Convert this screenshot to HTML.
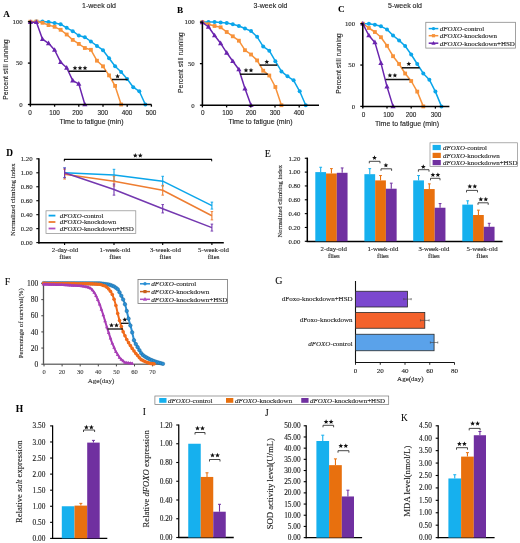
<!DOCTYPE html>
<html><head><meta charset="utf-8"><style>
html,body{margin:0;padding:0;background:#fff;}
svg{display:block;filter:blur(0.3px);}
</style></head><body>
<svg width="520" height="543" viewBox="0 0 520 543">
<rect width="520" height="543" fill="#fff"/>
<polyline points="30.40,21.70 36.45,21.50 42.50,21.50 48.55,22.00 54.60,23.00 60.65,24.20 66.70,27.80 72.75,31.20 78.80,35.50 84.85,37.20 90.90,41.50 96.95,45.90 103.00,50.20 109.05,58.30 115.10,66.30 121.15,72.00 127.20,79.00 133.25,87.20 139.30,91.30 145.35,104.50" fill="none" stroke="#0aa5ea" stroke-width="1.5" stroke-linejoin="round"/>
<circle cx="30.40" cy="21.70" r="2.0" fill="#0aa5ea"/>
<circle cx="36.45" cy="21.50" r="2.0" fill="#0aa5ea"/>
<circle cx="42.50" cy="21.50" r="2.0" fill="#0aa5ea"/>
<circle cx="48.55" cy="22.00" r="2.0" fill="#0aa5ea"/>
<circle cx="54.60" cy="23.00" r="2.0" fill="#0aa5ea"/>
<circle cx="60.65" cy="24.20" r="2.0" fill="#0aa5ea"/>
<circle cx="66.70" cy="27.80" r="2.0" fill="#0aa5ea"/>
<circle cx="72.75" cy="31.20" r="2.0" fill="#0aa5ea"/>
<circle cx="78.80" cy="35.50" r="2.0" fill="#0aa5ea"/>
<circle cx="84.85" cy="37.20" r="2.0" fill="#0aa5ea"/>
<circle cx="90.90" cy="41.50" r="2.0" fill="#0aa5ea"/>
<circle cx="96.95" cy="45.90" r="2.0" fill="#0aa5ea"/>
<circle cx="103.00" cy="50.20" r="2.0" fill="#0aa5ea"/>
<circle cx="109.05" cy="58.30" r="2.0" fill="#0aa5ea"/>
<circle cx="115.10" cy="66.30" r="2.0" fill="#0aa5ea"/>
<circle cx="121.15" cy="72.00" r="2.0" fill="#0aa5ea"/>
<circle cx="127.20" cy="79.00" r="2.0" fill="#0aa5ea"/>
<circle cx="133.25" cy="87.20" r="2.0" fill="#0aa5ea"/>
<circle cx="139.30" cy="91.30" r="2.0" fill="#0aa5ea"/>
<circle cx="145.35" cy="104.50" r="2.0" fill="#0aa5ea"/>
<polyline points="30.40,21.70 36.45,21.50 42.50,22.80 48.55,25.10 54.60,26.80 60.65,29.80 66.70,34.50 72.75,39.90 78.80,43.90 84.85,48.00 90.90,49.80 96.95,60.70 103.00,66.30 109.05,75.40 115.10,85.90 121.15,104.50" fill="none" stroke="#f7923a" stroke-width="1.5" stroke-linejoin="round"/>
<rect x="28.50" y="19.80" width="3.8" height="3.8" fill="#f7923a"/>
<rect x="34.55" y="19.60" width="3.8" height="3.8" fill="#f7923a"/>
<rect x="40.60" y="20.90" width="3.8" height="3.8" fill="#f7923a"/>
<rect x="46.65" y="23.20" width="3.8" height="3.8" fill="#f7923a"/>
<rect x="52.70" y="24.90" width="3.8" height="3.8" fill="#f7923a"/>
<rect x="58.75" y="27.90" width="3.8" height="3.8" fill="#f7923a"/>
<rect x="64.80" y="32.60" width="3.8" height="3.8" fill="#f7923a"/>
<rect x="70.85" y="38.00" width="3.8" height="3.8" fill="#f7923a"/>
<rect x="76.90" y="42.00" width="3.8" height="3.8" fill="#f7923a"/>
<rect x="82.95" y="46.10" width="3.8" height="3.8" fill="#f7923a"/>
<rect x="89.00" y="47.90" width="3.8" height="3.8" fill="#f7923a"/>
<rect x="95.05" y="58.80" width="3.8" height="3.8" fill="#f7923a"/>
<rect x="101.10" y="64.40" width="3.8" height="3.8" fill="#f7923a"/>
<rect x="107.15" y="73.50" width="3.8" height="3.8" fill="#f7923a"/>
<rect x="113.20" y="84.00" width="3.8" height="3.8" fill="#f7923a"/>
<rect x="119.25" y="102.60" width="3.8" height="3.8" fill="#f7923a"/>
<polyline points="30.40,22.20 36.45,22.20 42.50,39.20 48.55,43.30 54.60,50.00 60.65,62.20 66.70,67.80 72.75,80.60 78.80,83.90 84.85,104.50" fill="none" stroke="#6a24ae" stroke-width="1.5" stroke-linejoin="round"/>
<polygon points="30.40,19.39 27.80,24.07 33.00,24.07" fill="#6a24ae"/>
<polygon points="36.45,19.39 33.85,24.07 39.05,24.07" fill="#6a24ae"/>
<polygon points="42.50,36.39 39.90,41.07 45.10,41.07" fill="#6a24ae"/>
<polygon points="48.55,40.49 45.95,45.17 51.15,45.17" fill="#6a24ae"/>
<polygon points="54.60,47.19 52.00,51.87 57.20,51.87" fill="#6a24ae"/>
<polygon points="60.65,59.39 58.05,64.07 63.25,64.07" fill="#6a24ae"/>
<polygon points="66.70,64.99 64.10,69.67 69.30,69.67" fill="#6a24ae"/>
<polygon points="72.75,77.79 70.15,82.47 75.35,82.47" fill="#6a24ae"/>
<polygon points="78.80,81.09 76.20,85.77 81.40,85.77" fill="#6a24ae"/>
<polygon points="84.85,101.69 82.25,106.37 87.45,106.37" fill="#6a24ae"/>
<line x1="30.40" y1="21.20" x2="30.40" y2="105.25" stroke="#000" stroke-width="1.55"/>
<line x1="29.65" y1="104.50" x2="151.50" y2="104.50" stroke="#000" stroke-width="1.55"/>
<line x1="27.90" y1="21.70" x2="30.40" y2="21.70" stroke="#000" stroke-width="1.3"/>
<line x1="27.90" y1="63.10" x2="30.40" y2="63.10" stroke="#000" stroke-width="1.3"/>
<line x1="27.90" y1="104.50" x2="30.40" y2="104.50" stroke="#000" stroke-width="1.3"/>
<line x1="30.40" y1="104.50" x2="30.40" y2="106.70" stroke="#000" stroke-width="1.3"/>
<text x="30.00" y="115.04" font-family="'Liberation Sans', sans-serif" font-size="6.4" text-anchor="middle" font-weight="normal" font-style="normal" fill="#222" stroke="#222" stroke-width="0.12">0</text>
<line x1="54.60" y1="104.50" x2="54.60" y2="106.70" stroke="#000" stroke-width="1.3"/>
<text x="54.50" y="115.04" font-family="'Liberation Sans', sans-serif" font-size="6.4" text-anchor="middle" font-weight="normal" font-style="normal" fill="#222" stroke="#222" stroke-width="0.12">100</text>
<line x1="78.80" y1="104.50" x2="78.80" y2="106.70" stroke="#000" stroke-width="1.3"/>
<text x="77.60" y="115.04" font-family="'Liberation Sans', sans-serif" font-size="6.4" text-anchor="middle" font-weight="normal" font-style="normal" fill="#222" stroke="#222" stroke-width="0.12">200</text>
<line x1="103.00" y1="104.50" x2="103.00" y2="106.70" stroke="#000" stroke-width="1.3"/>
<text x="102.80" y="115.04" font-family="'Liberation Sans', sans-serif" font-size="6.4" text-anchor="middle" font-weight="normal" font-style="normal" fill="#222" stroke="#222" stroke-width="0.12">300</text>
<line x1="127.20" y1="104.50" x2="127.20" y2="106.70" stroke="#000" stroke-width="1.3"/>
<text x="127.00" y="115.04" font-family="'Liberation Sans', sans-serif" font-size="6.4" text-anchor="middle" font-weight="normal" font-style="normal" fill="#222" stroke="#222" stroke-width="0.12">400</text>
<line x1="151.40" y1="104.50" x2="151.40" y2="106.70" stroke="#000" stroke-width="1.3"/>
<text x="151.00" y="115.04" font-family="'Liberation Sans', sans-serif" font-size="6.4" text-anchor="middle" font-weight="normal" font-style="normal" fill="#222" stroke="#222" stroke-width="0.12">500</text>
<text x="22.70" y="24.08" font-family="'Liberation Serif', serif" font-size="6.8" text-anchor="end" font-weight="normal" font-style="normal" fill="#222" stroke="#222" stroke-width="0.12">100</text>
<text x="22.70" y="65.48" font-family="'Liberation Serif', serif" font-size="6.8" text-anchor="end" font-weight="normal" font-style="normal" fill="#222" stroke="#222" stroke-width="0.12">50</text>
<text x="22.70" y="106.88" font-family="'Liberation Serif', serif" font-size="6.8" text-anchor="end" font-weight="normal" font-style="normal" fill="#222" stroke="#222" stroke-width="0.12">0</text>
<line x1="68.70" y1="71.20" x2="105.90" y2="71.20" stroke="#111" stroke-width="1.5"/>
<polygon points="75.00,65.60 75.66,67.19 77.38,67.33 76.07,68.45 76.47,70.12 75.00,69.22 73.53,70.12 73.93,68.45 72.62,67.33 74.34,67.19" fill="#111"/>
<polygon points="80.00,65.60 80.66,67.19 82.38,67.33 81.07,68.45 81.47,70.12 80.00,69.22 78.53,70.12 78.93,68.45 77.62,67.33 79.34,67.19" fill="#111"/>
<polygon points="85.00,65.60 85.66,67.19 87.38,67.33 86.07,68.45 86.47,70.12 85.00,69.22 83.53,70.12 83.93,68.45 82.62,67.33 84.34,67.19" fill="#111"/>
<line x1="112.00" y1="79.50" x2="127.70" y2="79.50" stroke="#111" stroke-width="1.5"/>
<polygon points="117.60,73.80 118.26,75.39 119.98,75.53 118.67,76.65 119.07,78.32 117.60,77.42 116.13,78.32 116.53,76.65 115.22,75.53 116.94,75.39" fill="#111"/>
<text x="99.00" y="8.05" font-family="'Liberation Sans', sans-serif" font-size="7" text-anchor="middle" font-weight="normal" font-style="normal" fill="#222" stroke="#222" stroke-width="0.12">1-week old</text>
<text x="3.20" y="16.52" font-family="'Liberation Serif', serif" font-size="9.2" text-anchor="start" font-weight="bold" font-style="normal" fill="#000" stroke="#000" stroke-width="0.05">A</text>
<text x="5.80" y="72.02" font-family="'Liberation Sans', sans-serif" font-size="6.9" text-anchor="middle" font-weight="normal" font-style="normal" fill="#222" stroke="#222" stroke-width="0.12" transform="rotate(-90 5.80 69.60)">Percent still running</text>
<text x="91.50" y="124.45" font-family="'Liberation Sans', sans-serif" font-size="7" text-anchor="middle" font-weight="normal" font-style="normal" fill="#222" stroke="#222" stroke-width="0.12">Time to fatigue (min)</text>
<polyline points="202.40,22.10 208.48,22.10 214.56,22.10 220.64,22.50 226.72,23.00 232.80,24.20 238.88,26.00 244.96,28.50 251.04,31.10 257.12,36.80 263.20,46.60 269.28,50.70 275.36,61.20 281.44,71.40 287.52,76.30 293.60,80.30 299.68,91.30 305.76,105.20" fill="none" stroke="#0aa5ea" stroke-width="1.5" stroke-linejoin="round"/>
<circle cx="202.40" cy="22.10" r="2.0" fill="#0aa5ea"/>
<circle cx="208.48" cy="22.10" r="2.0" fill="#0aa5ea"/>
<circle cx="214.56" cy="22.10" r="2.0" fill="#0aa5ea"/>
<circle cx="220.64" cy="22.50" r="2.0" fill="#0aa5ea"/>
<circle cx="226.72" cy="23.00" r="2.0" fill="#0aa5ea"/>
<circle cx="232.80" cy="24.20" r="2.0" fill="#0aa5ea"/>
<circle cx="238.88" cy="26.00" r="2.0" fill="#0aa5ea"/>
<circle cx="244.96" cy="28.50" r="2.0" fill="#0aa5ea"/>
<circle cx="251.04" cy="31.10" r="2.0" fill="#0aa5ea"/>
<circle cx="257.12" cy="36.80" r="2.0" fill="#0aa5ea"/>
<circle cx="263.20" cy="46.60" r="2.0" fill="#0aa5ea"/>
<circle cx="269.28" cy="50.70" r="2.0" fill="#0aa5ea"/>
<circle cx="275.36" cy="61.20" r="2.0" fill="#0aa5ea"/>
<circle cx="281.44" cy="71.40" r="2.0" fill="#0aa5ea"/>
<circle cx="287.52" cy="76.30" r="2.0" fill="#0aa5ea"/>
<circle cx="293.60" cy="80.30" r="2.0" fill="#0aa5ea"/>
<circle cx="299.68" cy="91.30" r="2.0" fill="#0aa5ea"/>
<circle cx="305.76" cy="105.20" r="2.0" fill="#0aa5ea"/>
<polyline points="202.40,22.10 208.48,24.20 214.56,26.00 220.64,27.30 226.72,32.00 232.80,36.30 238.88,40.70 244.96,50.20 251.04,54.50 257.12,60.40 263.20,70.70 269.28,75.50 275.36,87.00 281.44,105.20" fill="none" stroke="#f7923a" stroke-width="1.5" stroke-linejoin="round"/>
<rect x="200.50" y="20.20" width="3.8" height="3.8" fill="#f7923a"/>
<rect x="206.58" y="22.30" width="3.8" height="3.8" fill="#f7923a"/>
<rect x="212.66" y="24.10" width="3.8" height="3.8" fill="#f7923a"/>
<rect x="218.74" y="25.40" width="3.8" height="3.8" fill="#f7923a"/>
<rect x="224.82" y="30.10" width="3.8" height="3.8" fill="#f7923a"/>
<rect x="230.90" y="34.40" width="3.8" height="3.8" fill="#f7923a"/>
<rect x="236.98" y="38.80" width="3.8" height="3.8" fill="#f7923a"/>
<rect x="243.06" y="48.30" width="3.8" height="3.8" fill="#f7923a"/>
<rect x="249.14" y="52.60" width="3.8" height="3.8" fill="#f7923a"/>
<rect x="255.22" y="58.50" width="3.8" height="3.8" fill="#f7923a"/>
<rect x="261.30" y="68.80" width="3.8" height="3.8" fill="#f7923a"/>
<rect x="267.38" y="73.60" width="3.8" height="3.8" fill="#f7923a"/>
<rect x="273.46" y="85.10" width="3.8" height="3.8" fill="#f7923a"/>
<rect x="279.54" y="103.30" width="3.8" height="3.8" fill="#f7923a"/>
<polyline points="202.40,22.50 208.48,26.80 214.56,35.50 220.64,43.30 226.72,52.80 232.80,61.20 238.88,69.50 244.96,88.60 251.04,105.20" fill="none" stroke="#6a24ae" stroke-width="1.5" stroke-linejoin="round"/>
<polygon points="202.40,19.69 199.80,24.37 205.00,24.37" fill="#6a24ae"/>
<polygon points="208.48,23.99 205.88,28.67 211.08,28.67" fill="#6a24ae"/>
<polygon points="214.56,32.69 211.96,37.37 217.16,37.37" fill="#6a24ae"/>
<polygon points="220.64,40.49 218.04,45.17 223.24,45.17" fill="#6a24ae"/>
<polygon points="226.72,49.99 224.12,54.67 229.32,54.67" fill="#6a24ae"/>
<polygon points="232.80,58.39 230.20,63.07 235.40,63.07" fill="#6a24ae"/>
<polygon points="238.88,66.69 236.28,71.37 241.48,71.37" fill="#6a24ae"/>
<polygon points="244.96,85.79 242.36,90.47 247.56,90.47" fill="#6a24ae"/>
<polygon points="251.04,102.39 248.44,107.07 253.64,107.07" fill="#6a24ae"/>
<line x1="202.40" y1="21.60" x2="202.40" y2="105.95" stroke="#000" stroke-width="1.55"/>
<line x1="201.65" y1="105.20" x2="319.00" y2="105.20" stroke="#000" stroke-width="1.55"/>
<line x1="199.90" y1="22.10" x2="202.40" y2="22.10" stroke="#000" stroke-width="1.3"/>
<line x1="199.90" y1="63.65" x2="202.40" y2="63.65" stroke="#000" stroke-width="1.3"/>
<line x1="199.90" y1="105.20" x2="202.40" y2="105.20" stroke="#000" stroke-width="1.3"/>
<line x1="202.40" y1="105.20" x2="202.40" y2="107.40" stroke="#000" stroke-width="1.3"/>
<text x="202.70" y="115.24" font-family="'Liberation Sans', sans-serif" font-size="6.4" text-anchor="middle" font-weight="normal" font-style="normal" fill="#222" stroke="#222" stroke-width="0.12">0</text>
<line x1="226.60" y1="105.20" x2="226.60" y2="107.40" stroke="#000" stroke-width="1.3"/>
<text x="227.50" y="115.24" font-family="'Liberation Sans', sans-serif" font-size="6.4" text-anchor="middle" font-weight="normal" font-style="normal" fill="#222" stroke="#222" stroke-width="0.12">100</text>
<line x1="250.80" y1="105.20" x2="250.80" y2="107.40" stroke="#000" stroke-width="1.3"/>
<text x="251.00" y="115.24" font-family="'Liberation Sans', sans-serif" font-size="6.4" text-anchor="middle" font-weight="normal" font-style="normal" fill="#222" stroke="#222" stroke-width="0.12">200</text>
<line x1="275.00" y1="105.20" x2="275.00" y2="107.40" stroke="#000" stroke-width="1.3"/>
<text x="275.00" y="115.24" font-family="'Liberation Sans', sans-serif" font-size="6.4" text-anchor="middle" font-weight="normal" font-style="normal" fill="#222" stroke="#222" stroke-width="0.12">300</text>
<line x1="299.20" y1="105.20" x2="299.20" y2="107.40" stroke="#000" stroke-width="1.3"/>
<text x="299.00" y="115.24" font-family="'Liberation Sans', sans-serif" font-size="6.4" text-anchor="middle" font-weight="normal" font-style="normal" fill="#222" stroke="#222" stroke-width="0.12">400</text>
<text x="194.70" y="24.48" font-family="'Liberation Serif', serif" font-size="6.8" text-anchor="end" font-weight="normal" font-style="normal" fill="#222" stroke="#222" stroke-width="0.12">100</text>
<text x="194.70" y="66.03" font-family="'Liberation Serif', serif" font-size="6.8" text-anchor="end" font-weight="normal" font-style="normal" fill="#222" stroke="#222" stroke-width="0.12">50</text>
<text x="194.70" y="107.58" font-family="'Liberation Serif', serif" font-size="6.8" text-anchor="end" font-weight="normal" font-style="normal" fill="#222" stroke="#222" stroke-width="0.12">0</text>
<line x1="240.00" y1="74.20" x2="267.80" y2="74.20" stroke="#111" stroke-width="1.5"/>
<polygon points="246.00,67.80 246.66,69.39 248.38,69.53 247.07,70.65 247.47,72.32 246.00,71.42 244.53,72.32 244.93,70.65 243.62,69.53 245.34,69.39" fill="#111"/>
<polygon points="251.00,67.80 251.66,69.39 253.38,69.53 252.07,70.65 252.47,72.32 251.00,71.42 249.53,72.32 249.93,70.65 248.62,69.53 250.34,69.39" fill="#111"/>
<line x1="259.70" y1="65.10" x2="277.20" y2="65.10" stroke="#111" stroke-width="1.5"/>
<polygon points="266.80,59.50 267.46,61.09 269.18,61.23 267.87,62.35 268.27,64.02 266.80,63.12 265.33,64.02 265.73,62.35 264.42,61.23 266.14,61.09" fill="#111"/>
<text x="270.50" y="8.05" font-family="'Liberation Sans', sans-serif" font-size="7" text-anchor="middle" font-weight="normal" font-style="normal" fill="#222" stroke="#222" stroke-width="0.12">3-week old</text>
<text x="176.90" y="13.22" font-family="'Liberation Serif', serif" font-size="9.2" text-anchor="start" font-weight="bold" font-style="normal" fill="#000" stroke="#000" stroke-width="0.05">B</text>
<text x="180.60" y="65.12" font-family="'Liberation Sans', sans-serif" font-size="6.9" text-anchor="middle" font-weight="normal" font-style="normal" fill="#222" stroke="#222" stroke-width="0.12" transform="rotate(-90 180.60 62.70)">Percent still running</text>
<text x="260.50" y="124.45" font-family="'Liberation Sans', sans-serif" font-size="7" text-anchor="middle" font-weight="normal" font-style="normal" fill="#222" stroke="#222" stroke-width="0.12">Time to fatigue (min)</text>
<polyline points="362.80,23.70 368.85,23.70 374.90,24.70 380.95,26.30 387.00,29.40 393.05,35.50 399.10,40.40 405.15,46.00 411.20,54.50 417.25,64.00 423.30,73.40 429.35,79.70 435.40,91.60 441.45,106.40" fill="none" stroke="#0aa5ea" stroke-width="1.5" stroke-linejoin="round"/>
<circle cx="362.80" cy="23.70" r="2.0" fill="#0aa5ea"/>
<circle cx="368.85" cy="23.70" r="2.0" fill="#0aa5ea"/>
<circle cx="374.90" cy="24.70" r="2.0" fill="#0aa5ea"/>
<circle cx="380.95" cy="26.30" r="2.0" fill="#0aa5ea"/>
<circle cx="387.00" cy="29.40" r="2.0" fill="#0aa5ea"/>
<circle cx="393.05" cy="35.50" r="2.0" fill="#0aa5ea"/>
<circle cx="399.10" cy="40.40" r="2.0" fill="#0aa5ea"/>
<circle cx="405.15" cy="46.00" r="2.0" fill="#0aa5ea"/>
<circle cx="411.20" cy="54.50" r="2.0" fill="#0aa5ea"/>
<circle cx="417.25" cy="64.00" r="2.0" fill="#0aa5ea"/>
<circle cx="423.30" cy="73.40" r="2.0" fill="#0aa5ea"/>
<circle cx="429.35" cy="79.70" r="2.0" fill="#0aa5ea"/>
<circle cx="435.40" cy="91.60" r="2.0" fill="#0aa5ea"/>
<circle cx="441.45" cy="106.40" r="2.0" fill="#0aa5ea"/>
<polyline points="362.80,23.70 368.85,28.00 374.90,32.00 380.95,37.20 387.00,45.80 393.05,56.20 399.10,64.00 405.15,73.50 411.20,81.00 417.25,91.60 423.30,106.40" fill="none" stroke="#f7923a" stroke-width="1.5" stroke-linejoin="round"/>
<rect x="360.90" y="21.80" width="3.8" height="3.8" fill="#f7923a"/>
<rect x="366.95" y="26.10" width="3.8" height="3.8" fill="#f7923a"/>
<rect x="373.00" y="30.10" width="3.8" height="3.8" fill="#f7923a"/>
<rect x="379.05" y="35.30" width="3.8" height="3.8" fill="#f7923a"/>
<rect x="385.10" y="43.90" width="3.8" height="3.8" fill="#f7923a"/>
<rect x="391.15" y="54.30" width="3.8" height="3.8" fill="#f7923a"/>
<rect x="397.20" y="62.10" width="3.8" height="3.8" fill="#f7923a"/>
<rect x="403.25" y="71.60" width="3.8" height="3.8" fill="#f7923a"/>
<rect x="409.30" y="79.10" width="3.8" height="3.8" fill="#f7923a"/>
<rect x="415.35" y="89.70" width="3.8" height="3.8" fill="#f7923a"/>
<rect x="421.40" y="104.50" width="3.8" height="3.8" fill="#f7923a"/>
<polyline points="362.80,23.70 368.85,35.50 374.90,42.40 380.95,63.10 387.00,86.60 393.05,106.40" fill="none" stroke="#6a24ae" stroke-width="1.5" stroke-linejoin="round"/>
<polygon points="362.80,20.89 360.20,25.57 365.40,25.57" fill="#6a24ae"/>
<polygon points="368.85,32.69 366.25,37.37 371.45,37.37" fill="#6a24ae"/>
<polygon points="374.90,39.59 372.30,44.27 377.50,44.27" fill="#6a24ae"/>
<polygon points="380.95,60.29 378.35,64.97 383.55,64.97" fill="#6a24ae"/>
<polygon points="387.00,83.79 384.40,88.47 389.60,88.47" fill="#6a24ae"/>
<polygon points="393.05,103.59 390.45,108.27 395.65,108.27" fill="#6a24ae"/>
<line x1="362.80" y1="23.20" x2="362.80" y2="107.15" stroke="#000" stroke-width="1.55"/>
<line x1="362.05" y1="106.40" x2="449.40" y2="106.40" stroke="#000" stroke-width="1.55"/>
<line x1="360.30" y1="23.70" x2="362.80" y2="23.70" stroke="#000" stroke-width="1.3"/>
<line x1="360.30" y1="65.05" x2="362.80" y2="65.05" stroke="#000" stroke-width="1.3"/>
<line x1="360.30" y1="106.40" x2="362.80" y2="106.40" stroke="#000" stroke-width="1.3"/>
<line x1="362.80" y1="106.40" x2="362.80" y2="108.60" stroke="#000" stroke-width="1.3"/>
<text x="363.50" y="116.54" font-family="'Liberation Sans', sans-serif" font-size="6.4" text-anchor="middle" font-weight="normal" font-style="normal" fill="#222" stroke="#222" stroke-width="0.12">0</text>
<line x1="387.00" y1="106.40" x2="387.00" y2="108.60" stroke="#000" stroke-width="1.3"/>
<text x="388.50" y="116.54" font-family="'Liberation Sans', sans-serif" font-size="6.4" text-anchor="middle" font-weight="normal" font-style="normal" fill="#222" stroke="#222" stroke-width="0.12">100</text>
<line x1="411.20" y1="106.40" x2="411.20" y2="108.60" stroke="#000" stroke-width="1.3"/>
<text x="411.00" y="116.54" font-family="'Liberation Sans', sans-serif" font-size="6.4" text-anchor="middle" font-weight="normal" font-style="normal" fill="#222" stroke="#222" stroke-width="0.12">200</text>
<line x1="435.40" y1="106.40" x2="435.40" y2="108.60" stroke="#000" stroke-width="1.3"/>
<text x="436.00" y="116.54" font-family="'Liberation Sans', sans-serif" font-size="6.4" text-anchor="middle" font-weight="normal" font-style="normal" fill="#222" stroke="#222" stroke-width="0.12">300</text>
<text x="355.10" y="26.08" font-family="'Liberation Serif', serif" font-size="6.8" text-anchor="end" font-weight="normal" font-style="normal" fill="#222" stroke="#222" stroke-width="0.12">100</text>
<text x="355.10" y="67.43" font-family="'Liberation Serif', serif" font-size="6.8" text-anchor="end" font-weight="normal" font-style="normal" fill="#222" stroke="#222" stroke-width="0.12">50</text>
<text x="355.10" y="108.78" font-family="'Liberation Serif', serif" font-size="6.8" text-anchor="end" font-weight="normal" font-style="normal" fill="#222" stroke="#222" stroke-width="0.12">0</text>
<line x1="385.70" y1="79.50" x2="409.50" y2="79.50" stroke="#111" stroke-width="1.5"/>
<polygon points="389.90,73.00 390.56,74.59 392.28,74.73 390.97,75.85 391.37,77.52 389.90,76.62 388.43,77.52 388.83,75.85 387.52,74.73 389.24,74.59" fill="#111"/>
<polygon points="394.90,73.00 395.56,74.59 397.28,74.73 395.97,75.85 396.37,77.52 394.90,76.62 393.43,77.52 393.83,75.85 392.52,74.73 394.24,74.59" fill="#111"/>
<line x1="401.80" y1="67.80" x2="419.60" y2="67.80" stroke="#111" stroke-width="1.5"/>
<polygon points="408.80,61.50 409.46,63.09 411.18,63.23 409.87,64.35 410.27,66.02 408.80,65.12 407.33,66.02 407.73,64.35 406.42,63.23 408.14,63.09" fill="#111"/>
<text x="405.00" y="8.05" font-family="'Liberation Sans', sans-serif" font-size="7" text-anchor="middle" font-weight="normal" font-style="normal" fill="#222" stroke="#222" stroke-width="0.12">5-week old</text>
<text x="337.90" y="12.02" font-family="'Liberation Serif', serif" font-size="9.2" text-anchor="start" font-weight="bold" font-style="normal" fill="#000" stroke="#000" stroke-width="0.05">C</text>
<text x="338.80" y="66.02" font-family="'Liberation Sans', sans-serif" font-size="6.9" text-anchor="middle" font-weight="normal" font-style="normal" fill="#222" stroke="#222" stroke-width="0.12" transform="rotate(-90 338.80 63.60)">Percent still running</text>
<text x="407.00" y="126.15" font-family="'Liberation Sans', sans-serif" font-size="7" text-anchor="middle" font-weight="normal" font-style="normal" fill="#222" stroke="#222" stroke-width="0.12">Time to fatigue (min)</text>
<rect x="425.80" y="22.30" width="89.80" height="25.80" fill="#fff" stroke="#8a8a8a" stroke-width="0.8"/>
<line x1="428.70" y1="28.60" x2="438.30" y2="28.60" stroke="#0aa5ea" stroke-width="1.5"/>
<circle cx="433.50" cy="28.60" r="1.7" fill="#0aa5ea"/>
<text x="439.80" y="31.05" font-family="'Liberation Serif', serif" font-size="7.0" text-anchor="start" font-weight="normal" font-style="normal" fill="#222" stroke="#222" stroke-width="0.12"><tspan font-style="italic">dFOXO</tspan>-control</text>
<line x1="428.70" y1="35.70" x2="438.30" y2="35.70" stroke="#f7923a" stroke-width="1.5"/>
<rect x="431.90" y="34.10" width="3.2" height="3.2" fill="#f7923a"/>
<text x="439.80" y="38.15" font-family="'Liberation Serif', serif" font-size="7.0" text-anchor="start" font-weight="normal" font-style="normal" fill="#222" stroke="#222" stroke-width="0.12"><tspan font-style="italic">dFOXO</tspan>-knockdown</text>
<line x1="428.70" y1="43.20" x2="438.30" y2="43.20" stroke="#6a24ae" stroke-width="1.5"/>
<polygon points="433.50,40.93 431.40,44.71 435.60,44.71" fill="#6a24ae"/>
<text x="439.80" y="45.65" font-family="'Liberation Serif', serif" font-size="7.0" text-anchor="start" font-weight="normal" font-style="normal" fill="#222" stroke="#222" stroke-width="0.12"><tspan font-style="italic">dFOXO</tspan>-knockdown+HSD</text>
<text x="6.20" y="155.66" font-family="'Liberation Serif', serif" font-size="9.3" text-anchor="start" font-weight="bold" font-style="normal" fill="#000" stroke="#000" stroke-width="0.05">D</text>
<line x1="38.90" y1="158.30" x2="38.90" y2="243.40" stroke="#000" stroke-width="1.5"/>
<line x1="38.20" y1="242.70" x2="223.80" y2="242.70" stroke="#000" stroke-width="1.5"/>
<line x1="36.30" y1="242.60" x2="38.90" y2="242.60" stroke="#000" stroke-width="1.1"/>
<text x="32.60" y="244.98" font-family="'Liberation Serif', serif" font-size="6.8" text-anchor="end" font-weight="normal" font-style="normal" fill="#222" stroke="#222" stroke-width="0.12">0.00</text>
<line x1="36.30" y1="228.64" x2="38.90" y2="228.64" stroke="#000" stroke-width="1.1"/>
<text x="32.60" y="231.02" font-family="'Liberation Serif', serif" font-size="6.8" text-anchor="end" font-weight="normal" font-style="normal" fill="#222" stroke="#222" stroke-width="0.12">0.20</text>
<line x1="36.30" y1="214.68" x2="38.90" y2="214.68" stroke="#000" stroke-width="1.1"/>
<text x="32.60" y="217.06" font-family="'Liberation Serif', serif" font-size="6.8" text-anchor="end" font-weight="normal" font-style="normal" fill="#222" stroke="#222" stroke-width="0.12">0.40</text>
<line x1="36.30" y1="200.72" x2="38.90" y2="200.72" stroke="#000" stroke-width="1.1"/>
<text x="32.60" y="203.10" font-family="'Liberation Serif', serif" font-size="6.8" text-anchor="end" font-weight="normal" font-style="normal" fill="#222" stroke="#222" stroke-width="0.12">0.60</text>
<line x1="36.30" y1="186.76" x2="38.90" y2="186.76" stroke="#000" stroke-width="1.1"/>
<text x="32.60" y="189.14" font-family="'Liberation Serif', serif" font-size="6.8" text-anchor="end" font-weight="normal" font-style="normal" fill="#222" stroke="#222" stroke-width="0.12">0.80</text>
<line x1="36.30" y1="172.80" x2="38.90" y2="172.80" stroke="#000" stroke-width="1.1"/>
<text x="32.60" y="175.18" font-family="'Liberation Serif', serif" font-size="6.8" text-anchor="end" font-weight="normal" font-style="normal" fill="#222" stroke="#222" stroke-width="0.12">1.00</text>
<line x1="36.30" y1="158.84" x2="38.90" y2="158.84" stroke="#000" stroke-width="1.1"/>
<text x="32.60" y="161.22" font-family="'Liberation Serif', serif" font-size="6.8" text-anchor="end" font-weight="normal" font-style="normal" fill="#222" stroke="#222" stroke-width="0.12">1.20</text>
<line x1="64.60" y1="242.70" x2="64.60" y2="245.00" stroke="#000" stroke-width="1.1"/>
<text x="65.00" y="251.78" font-family="'Liberation Serif', serif" font-size="6.8" text-anchor="middle" font-weight="normal" font-style="normal" fill="#222" stroke="#222" stroke-width="0.12">2-day-old</text>
<text x="65.00" y="259.18" font-family="'Liberation Serif', serif" font-size="6.8" text-anchor="middle" font-weight="normal" font-style="normal" fill="#222" stroke="#222" stroke-width="0.12">flies</text>
<line x1="114.00" y1="242.70" x2="114.00" y2="245.00" stroke="#000" stroke-width="1.1"/>
<text x="115.00" y="251.78" font-family="'Liberation Serif', serif" font-size="6.8" text-anchor="middle" font-weight="normal" font-style="normal" fill="#222" stroke="#222" stroke-width="0.12">1-week-old</text>
<text x="115.00" y="259.18" font-family="'Liberation Serif', serif" font-size="6.8" text-anchor="middle" font-weight="normal" font-style="normal" fill="#222" stroke="#222" stroke-width="0.12">flies</text>
<line x1="162.70" y1="242.70" x2="162.70" y2="245.00" stroke="#000" stroke-width="1.1"/>
<text x="165.40" y="251.78" font-family="'Liberation Serif', serif" font-size="6.8" text-anchor="middle" font-weight="normal" font-style="normal" fill="#222" stroke="#222" stroke-width="0.12">3-week-old</text>
<text x="165.40" y="259.18" font-family="'Liberation Serif', serif" font-size="6.8" text-anchor="middle" font-weight="normal" font-style="normal" fill="#222" stroke="#222" stroke-width="0.12">flies</text>
<line x1="211.90" y1="242.70" x2="211.90" y2="245.00" stroke="#000" stroke-width="1.1"/>
<text x="213.50" y="251.78" font-family="'Liberation Serif', serif" font-size="6.8" text-anchor="middle" font-weight="normal" font-style="normal" fill="#222" stroke="#222" stroke-width="0.12">5-week-old</text>
<text x="213.50" y="259.18" font-family="'Liberation Serif', serif" font-size="6.8" text-anchor="middle" font-weight="normal" font-style="normal" fill="#222" stroke="#222" stroke-width="0.12">flies</text>
<text x="12.40" y="202.11" font-family="'Liberation Serif', serif" font-size="6.6" text-anchor="middle" font-weight="normal" font-style="normal" fill="#222" stroke="#222" stroke-width="0.12" transform="rotate(-90 12.40 199.80)">Normalized climbing index</text>
<polyline points="64.60,172.80 114.00,174.89 162.70,181.18 211.90,205.61" fill="none" stroke="#0aa5ea" stroke-width="1.5" stroke-linejoin="round"/>
<line x1="64.60" y1="167.91" x2="64.60" y2="177.69" stroke="#0aa5ea" stroke-width="1.1"/>
<line x1="63.30" y1="167.91" x2="65.90" y2="167.91" stroke="#0aa5ea" stroke-width="0.9"/>
<line x1="63.30" y1="177.69" x2="65.90" y2="177.69" stroke="#0aa5ea" stroke-width="0.9"/>
<line x1="114.00" y1="169.31" x2="114.00" y2="180.48" stroke="#0aa5ea" stroke-width="1.1"/>
<line x1="112.70" y1="169.31" x2="115.30" y2="169.31" stroke="#0aa5ea" stroke-width="0.9"/>
<line x1="112.70" y1="180.48" x2="115.30" y2="180.48" stroke="#0aa5ea" stroke-width="0.9"/>
<line x1="162.70" y1="176.29" x2="162.70" y2="186.06" stroke="#0aa5ea" stroke-width="1.1"/>
<line x1="161.40" y1="176.29" x2="164.00" y2="176.29" stroke="#0aa5ea" stroke-width="0.9"/>
<line x1="161.40" y1="186.06" x2="164.00" y2="186.06" stroke="#0aa5ea" stroke-width="0.9"/>
<line x1="211.90" y1="202.12" x2="211.90" y2="209.10" stroke="#0aa5ea" stroke-width="1.1"/>
<line x1="210.60" y1="202.12" x2="213.20" y2="202.12" stroke="#0aa5ea" stroke-width="0.9"/>
<line x1="210.60" y1="209.10" x2="213.20" y2="209.10" stroke="#0aa5ea" stroke-width="0.9"/>
<polyline points="64.60,174.20 114.00,181.18 162.70,190.25 211.90,215.73" fill="none" stroke="#ee7d31" stroke-width="1.5" stroke-linejoin="round"/>
<line x1="64.60" y1="169.31" x2="64.60" y2="179.08" stroke="#ee7d31" stroke-width="1.1"/>
<line x1="63.30" y1="169.31" x2="65.90" y2="169.31" stroke="#ee7d31" stroke-width="0.9"/>
<line x1="63.30" y1="179.08" x2="65.90" y2="179.08" stroke="#ee7d31" stroke-width="0.9"/>
<line x1="114.00" y1="176.29" x2="114.00" y2="186.06" stroke="#ee7d31" stroke-width="1.1"/>
<line x1="112.70" y1="176.29" x2="115.30" y2="176.29" stroke="#ee7d31" stroke-width="0.9"/>
<line x1="112.70" y1="186.06" x2="115.30" y2="186.06" stroke="#ee7d31" stroke-width="0.9"/>
<line x1="162.70" y1="185.36" x2="162.70" y2="195.14" stroke="#ee7d31" stroke-width="1.1"/>
<line x1="161.40" y1="185.36" x2="164.00" y2="185.36" stroke="#ee7d31" stroke-width="0.9"/>
<line x1="161.40" y1="195.14" x2="164.00" y2="195.14" stroke="#ee7d31" stroke-width="0.9"/>
<line x1="211.90" y1="211.54" x2="211.90" y2="219.91" stroke="#ee7d31" stroke-width="1.1"/>
<line x1="210.60" y1="211.54" x2="213.20" y2="211.54" stroke="#ee7d31" stroke-width="0.9"/>
<line x1="210.60" y1="219.91" x2="213.20" y2="219.91" stroke="#ee7d31" stroke-width="0.9"/>
<polyline points="64.60,172.80 114.00,189.55 162.70,208.75 211.90,227.59" fill="none" stroke="#7438b0" stroke-width="1.5" stroke-linejoin="round"/>
<line x1="64.60" y1="167.91" x2="64.60" y2="177.69" stroke="#7438b0" stroke-width="1.1"/>
<line x1="63.30" y1="167.91" x2="65.90" y2="167.91" stroke="#7438b0" stroke-width="0.9"/>
<line x1="63.30" y1="177.69" x2="65.90" y2="177.69" stroke="#7438b0" stroke-width="0.9"/>
<line x1="114.00" y1="183.97" x2="114.00" y2="195.14" stroke="#7438b0" stroke-width="1.1"/>
<line x1="112.70" y1="183.97" x2="115.30" y2="183.97" stroke="#7438b0" stroke-width="0.9"/>
<line x1="112.70" y1="195.14" x2="115.30" y2="195.14" stroke="#7438b0" stroke-width="0.9"/>
<line x1="162.70" y1="204.56" x2="162.70" y2="212.94" stroke="#7438b0" stroke-width="1.1"/>
<line x1="161.40" y1="204.56" x2="164.00" y2="204.56" stroke="#7438b0" stroke-width="0.9"/>
<line x1="161.40" y1="212.94" x2="164.00" y2="212.94" stroke="#7438b0" stroke-width="0.9"/>
<line x1="211.90" y1="224.10" x2="211.90" y2="231.08" stroke="#7438b0" stroke-width="1.1"/>
<line x1="210.60" y1="224.10" x2="213.20" y2="224.10" stroke="#7438b0" stroke-width="0.9"/>
<line x1="210.60" y1="231.08" x2="213.20" y2="231.08" stroke="#7438b0" stroke-width="0.9"/>
<line x1="64.00" y1="159.30" x2="212.00" y2="159.30" stroke="#000" stroke-width="1.2"/>
<line x1="64.30" y1="159.30" x2="64.30" y2="161.30" stroke="#000" stroke-width="1"/>
<line x1="211.70" y1="159.30" x2="211.70" y2="161.30" stroke="#000" stroke-width="1"/>
<polygon points="135.30,153.10 135.96,154.69 137.68,154.83 136.37,155.95 136.77,157.62 135.30,156.73 133.83,157.62 134.23,155.95 132.92,154.83 134.64,154.69" fill="#111"/>
<polygon points="140.30,153.10 140.96,154.69 142.68,154.83 141.37,155.95 141.77,157.62 140.30,156.73 138.83,157.62 139.23,155.95 137.92,154.83 139.64,154.69" fill="#111"/>
<rect x="46.00" y="210.80" width="89.80" height="22.80" fill="#fff" stroke="#8a8a8a" stroke-width="0.7"/>
<line x1="48.60" y1="215.60" x2="55.40" y2="215.60" stroke="#0aa5ea" stroke-width="1.8"/>
<text x="59.80" y="218.01" font-family="'Liberation Serif', serif" font-size="6.9" text-anchor="start" font-weight="normal" font-style="normal" fill="#222" stroke="#222" stroke-width="0.12"><tspan font-style="italic">dFOXO</tspan>-control</text>
<line x1="48.60" y1="222.00" x2="55.40" y2="222.00" stroke="#ee7d31" stroke-width="1.8"/>
<text x="59.80" y="224.41" font-family="'Liberation Serif', serif" font-size="6.9" text-anchor="start" font-weight="normal" font-style="normal" fill="#222" stroke="#222" stroke-width="0.12"><tspan font-style="italic">dFOXO</tspan>-knockdown</text>
<line x1="48.60" y1="228.50" x2="55.40" y2="228.50" stroke="#b04fc0" stroke-width="1.8"/>
<text x="59.80" y="230.91" font-family="'Liberation Serif', serif" font-size="6.9" text-anchor="start" font-weight="normal" font-style="normal" fill="#222" stroke="#222" stroke-width="0.12"><tspan font-style="italic">dFOXO</tspan>-knockdown+HSD</text>
<text x="264.80" y="156.50" font-family="'Liberation Serif', serif" font-size="10" text-anchor="start" font-weight="normal" font-style="normal" fill="#000" stroke="#000" stroke-width="0.05">E</text>
<line x1="307.30" y1="157.60" x2="307.30" y2="242.00" stroke="#000" stroke-width="1.5"/>
<line x1="306.60" y1="241.40" x2="502.60" y2="241.40" stroke="#000" stroke-width="1.5"/>
<line x1="304.80" y1="241.30" x2="307.30" y2="241.30" stroke="#000" stroke-width="1.1"/>
<text x="300.40" y="243.68" font-family="'Liberation Serif', serif" font-size="6.8" text-anchor="end" font-weight="normal" font-style="normal" fill="#222" stroke="#222" stroke-width="0.12">0.00</text>
<line x1="304.80" y1="227.46" x2="307.30" y2="227.46" stroke="#000" stroke-width="1.1"/>
<text x="300.40" y="229.84" font-family="'Liberation Serif', serif" font-size="6.8" text-anchor="end" font-weight="normal" font-style="normal" fill="#222" stroke="#222" stroke-width="0.12">0.20</text>
<line x1="304.80" y1="213.62" x2="307.30" y2="213.62" stroke="#000" stroke-width="1.1"/>
<text x="300.40" y="216.00" font-family="'Liberation Serif', serif" font-size="6.8" text-anchor="end" font-weight="normal" font-style="normal" fill="#222" stroke="#222" stroke-width="0.12">0.40</text>
<line x1="304.80" y1="199.78" x2="307.30" y2="199.78" stroke="#000" stroke-width="1.1"/>
<text x="300.40" y="202.16" font-family="'Liberation Serif', serif" font-size="6.8" text-anchor="end" font-weight="normal" font-style="normal" fill="#222" stroke="#222" stroke-width="0.12">0.60</text>
<line x1="304.80" y1="185.94" x2="307.30" y2="185.94" stroke="#000" stroke-width="1.1"/>
<text x="300.40" y="188.32" font-family="'Liberation Serif', serif" font-size="6.8" text-anchor="end" font-weight="normal" font-style="normal" fill="#222" stroke="#222" stroke-width="0.12">0.80</text>
<line x1="304.80" y1="172.10" x2="307.30" y2="172.10" stroke="#000" stroke-width="1.1"/>
<text x="300.40" y="174.48" font-family="'Liberation Serif', serif" font-size="6.8" text-anchor="end" font-weight="normal" font-style="normal" fill="#222" stroke="#222" stroke-width="0.12">1.00</text>
<line x1="304.80" y1="158.26" x2="307.30" y2="158.26" stroke="#000" stroke-width="1.1"/>
<text x="300.40" y="160.64" font-family="'Liberation Serif', serif" font-size="6.8" text-anchor="end" font-weight="normal" font-style="normal" fill="#222" stroke="#222" stroke-width="0.12">1.20</text>
<rect x="315.30" y="172.10" width="10.75" height="69.20" fill="#16b0ee" stroke="none" stroke-width="0"/>
<line x1="320.68" y1="167.26" x2="320.68" y2="172.10" stroke="#16b0ee" stroke-width="1.1"/>
<line x1="319.28" y1="167.26" x2="322.07" y2="167.26" stroke="#16b0ee" stroke-width="1.0"/>
<rect x="326.05" y="173.48" width="10.75" height="67.82" fill="#e8700e" stroke="none" stroke-width="0"/>
<line x1="331.43" y1="168.64" x2="331.43" y2="173.48" stroke="#e8700e" stroke-width="1.1"/>
<line x1="330.03" y1="168.64" x2="332.82" y2="168.64" stroke="#e8700e" stroke-width="1.0"/>
<rect x="336.80" y="172.79" width="10.75" height="68.51" fill="#7030a0" stroke="none" stroke-width="0"/>
<line x1="342.18" y1="167.95" x2="342.18" y2="172.79" stroke="#7030a0" stroke-width="1.1"/>
<line x1="340.78" y1="167.95" x2="343.57" y2="167.95" stroke="#7030a0" stroke-width="1.0"/>
<text x="333.80" y="250.98" font-family="'Liberation Serif', serif" font-size="6.8" text-anchor="middle" font-weight="normal" font-style="normal" fill="#222" stroke="#222" stroke-width="0.12">2-day-old</text>
<text x="333.80" y="258.28" font-family="'Liberation Serif', serif" font-size="6.8" text-anchor="middle" font-weight="normal" font-style="normal" fill="#222" stroke="#222" stroke-width="0.12">flies</text>
<rect x="364.40" y="174.18" width="10.75" height="67.12" fill="#16b0ee" stroke="none" stroke-width="0"/>
<line x1="369.77" y1="168.64" x2="369.77" y2="174.18" stroke="#16b0ee" stroke-width="1.1"/>
<line x1="368.38" y1="168.64" x2="371.17" y2="168.64" stroke="#16b0ee" stroke-width="1.0"/>
<rect x="375.15" y="180.40" width="10.75" height="60.90" fill="#e8700e" stroke="none" stroke-width="0"/>
<line x1="380.52" y1="175.56" x2="380.52" y2="180.40" stroke="#e8700e" stroke-width="1.1"/>
<line x1="379.12" y1="175.56" x2="381.92" y2="175.56" stroke="#e8700e" stroke-width="1.0"/>
<rect x="385.90" y="188.71" width="10.75" height="52.59" fill="#7030a0" stroke="none" stroke-width="0"/>
<line x1="391.27" y1="183.17" x2="391.27" y2="188.71" stroke="#7030a0" stroke-width="1.1"/>
<line x1="389.88" y1="183.17" x2="392.67" y2="183.17" stroke="#7030a0" stroke-width="1.0"/>
<text x="382.90" y="250.98" font-family="'Liberation Serif', serif" font-size="6.8" text-anchor="middle" font-weight="normal" font-style="normal" fill="#222" stroke="#222" stroke-width="0.12">1-week-old</text>
<text x="382.90" y="258.28" font-family="'Liberation Serif', serif" font-size="6.8" text-anchor="middle" font-weight="normal" font-style="normal" fill="#222" stroke="#222" stroke-width="0.12">flies</text>
<rect x="413.20" y="180.40" width="10.75" height="60.90" fill="#16b0ee" stroke="none" stroke-width="0"/>
<line x1="418.57" y1="175.56" x2="418.57" y2="180.40" stroke="#16b0ee" stroke-width="1.1"/>
<line x1="417.18" y1="175.56" x2="419.97" y2="175.56" stroke="#16b0ee" stroke-width="1.0"/>
<rect x="423.95" y="189.05" width="10.75" height="52.25" fill="#e8700e" stroke="none" stroke-width="0"/>
<line x1="429.32" y1="183.86" x2="429.32" y2="189.05" stroke="#e8700e" stroke-width="1.1"/>
<line x1="427.93" y1="183.86" x2="430.72" y2="183.86" stroke="#e8700e" stroke-width="1.0"/>
<rect x="434.70" y="207.74" width="10.75" height="33.56" fill="#7030a0" stroke="none" stroke-width="0"/>
<line x1="440.07" y1="203.59" x2="440.07" y2="207.74" stroke="#7030a0" stroke-width="1.1"/>
<line x1="438.68" y1="203.59" x2="441.47" y2="203.59" stroke="#7030a0" stroke-width="1.0"/>
<text x="433.90" y="250.98" font-family="'Liberation Serif', serif" font-size="6.8" text-anchor="middle" font-weight="normal" font-style="normal" fill="#222" stroke="#222" stroke-width="0.12">3-week-old</text>
<text x="433.90" y="258.28" font-family="'Liberation Serif', serif" font-size="6.8" text-anchor="middle" font-weight="normal" font-style="normal" fill="#222" stroke="#222" stroke-width="0.12">flies</text>
<rect x="462.30" y="204.62" width="10.75" height="36.68" fill="#16b0ee" stroke="none" stroke-width="0"/>
<line x1="467.68" y1="200.82" x2="467.68" y2="204.62" stroke="#16b0ee" stroke-width="1.1"/>
<line x1="466.28" y1="200.82" x2="469.07" y2="200.82" stroke="#16b0ee" stroke-width="1.0"/>
<rect x="473.05" y="215.00" width="10.75" height="26.30" fill="#e8700e" stroke="none" stroke-width="0"/>
<line x1="478.43" y1="210.16" x2="478.43" y2="215.00" stroke="#e8700e" stroke-width="1.1"/>
<line x1="477.03" y1="210.16" x2="479.82" y2="210.16" stroke="#e8700e" stroke-width="1.0"/>
<rect x="483.80" y="226.77" width="10.75" height="14.53" fill="#7030a0" stroke="none" stroke-width="0"/>
<line x1="489.18" y1="223.31" x2="489.18" y2="226.77" stroke="#7030a0" stroke-width="1.1"/>
<line x1="487.78" y1="223.31" x2="490.57" y2="223.31" stroke="#7030a0" stroke-width="1.0"/>
<text x="482.10" y="250.98" font-family="'Liberation Serif', serif" font-size="6.8" text-anchor="middle" font-weight="normal" font-style="normal" fill="#222" stroke="#222" stroke-width="0.12">5-week-old</text>
<text x="482.10" y="258.28" font-family="'Liberation Serif', serif" font-size="6.8" text-anchor="middle" font-weight="normal" font-style="normal" fill="#222" stroke="#222" stroke-width="0.12">flies</text>
<text x="279.30" y="203.51" font-family="'Liberation Serif', serif" font-size="6.6" text-anchor="middle" font-weight="normal" font-style="normal" fill="#222" stroke="#222" stroke-width="0.12" transform="rotate(-90 279.30 201.20)">Normalized climbing index</text>
<line x1="369.30" y1="161.30" x2="380.00" y2="161.30" stroke="#333" stroke-width="0.9"/>
<line x1="369.30" y1="161.30" x2="369.30" y2="163.30" stroke="#333" stroke-width="0.9"/>
<line x1="380.00" y1="161.30" x2="380.00" y2="163.30" stroke="#333" stroke-width="0.9"/>
<polygon points="374.50,155.30 375.16,156.89 376.88,157.03 375.57,158.15 375.97,159.82 374.50,158.93 373.03,159.82 373.43,158.15 372.12,157.03 373.84,156.89" fill="#111"/>
<line x1="381.00" y1="168.80" x2="391.60" y2="168.80" stroke="#333" stroke-width="0.9"/>
<line x1="381.00" y1="168.80" x2="381.00" y2="170.80" stroke="#333" stroke-width="0.9"/>
<line x1="391.60" y1="168.80" x2="391.60" y2="170.80" stroke="#333" stroke-width="0.9"/>
<polygon points="385.90,162.80 386.56,164.39 388.28,164.53 386.97,165.65 387.37,167.32 385.90,166.43 384.43,167.32 384.83,165.65 383.52,164.53 385.24,164.39" fill="#111"/>
<line x1="418.40" y1="169.70" x2="429.00" y2="169.70" stroke="#333" stroke-width="0.9"/>
<line x1="418.40" y1="169.70" x2="418.40" y2="171.70" stroke="#333" stroke-width="0.9"/>
<line x1="429.00" y1="169.70" x2="429.00" y2="171.70" stroke="#333" stroke-width="0.9"/>
<polygon points="423.30,164.30 423.96,165.89 425.68,166.03 424.37,167.15 424.77,168.82 423.30,167.93 421.83,168.82 422.23,167.15 420.92,166.03 422.64,165.89" fill="#111"/>
<line x1="430.50" y1="178.30" x2="440.00" y2="178.30" stroke="#333" stroke-width="0.9"/>
<line x1="430.50" y1="178.30" x2="430.50" y2="180.30" stroke="#333" stroke-width="0.9"/>
<line x1="440.00" y1="178.30" x2="440.00" y2="180.30" stroke="#333" stroke-width="0.9"/>
<polygon points="432.90,172.40 433.56,173.99 435.28,174.13 433.97,175.25 434.37,176.92 432.90,176.03 431.43,176.92 431.83,175.25 430.52,174.13 432.24,173.99" fill="#111"/>
<polygon points="437.90,172.40 438.56,173.99 440.28,174.13 438.97,175.25 439.37,176.92 437.90,176.03 436.43,176.92 436.83,175.25 435.52,174.13 437.24,173.99" fill="#111"/>
<line x1="466.50" y1="190.40" x2="477.50" y2="190.40" stroke="#333" stroke-width="0.9"/>
<line x1="466.50" y1="190.40" x2="466.50" y2="192.40" stroke="#333" stroke-width="0.9"/>
<line x1="477.50" y1="190.40" x2="477.50" y2="192.40" stroke="#333" stroke-width="0.9"/>
<polygon points="469.80,183.90 470.46,185.49 472.18,185.63 470.87,186.75 471.27,188.42 469.80,187.53 468.33,188.42 468.73,186.75 467.42,185.63 469.14,185.49" fill="#111"/>
<polygon points="474.80,183.90 475.46,185.49 477.18,185.63 475.87,186.75 476.27,188.42 474.80,187.53 473.33,188.42 473.73,186.75 472.42,185.63 474.14,185.49" fill="#111"/>
<line x1="478.00" y1="202.80" x2="488.20" y2="202.80" stroke="#333" stroke-width="0.9"/>
<line x1="478.00" y1="202.80" x2="478.00" y2="204.80" stroke="#333" stroke-width="0.9"/>
<line x1="488.20" y1="202.80" x2="488.20" y2="204.80" stroke="#333" stroke-width="0.9"/>
<polygon points="480.80,196.80 481.46,198.39 483.18,198.53 481.87,199.65 482.27,201.32 480.80,200.43 479.33,201.32 479.73,199.65 478.42,198.53 480.14,198.39" fill="#111"/>
<polygon points="485.80,196.80 486.46,198.39 488.18,198.53 486.87,199.65 487.27,201.32 485.80,200.43 484.33,201.32 484.73,199.65 483.42,198.53 485.14,198.39" fill="#111"/>
<rect x="430.00" y="142.80" width="87.50" height="23.60" fill="#fff" stroke="#8a8a8a" stroke-width="0.7"/>
<rect x="432.60" y="144.90" width="8.20" height="5.20" fill="#16b0ee" stroke="none" stroke-width="0"/>
<text x="443.00" y="149.93" font-family="'Liberation Serif', serif" font-size="6.95" text-anchor="start" font-weight="normal" font-style="normal" fill="#222" stroke="#222" stroke-width="0.12"><tspan font-style="italic">dFOXO</tspan>-control</text>
<rect x="432.60" y="152.80" width="8.20" height="5.20" fill="#e8700e" stroke="none" stroke-width="0"/>
<text x="443.00" y="157.83" font-family="'Liberation Serif', serif" font-size="6.95" text-anchor="start" font-weight="normal" font-style="normal" fill="#222" stroke="#222" stroke-width="0.12"><tspan font-style="italic">dFOXO</tspan>-knockdown</text>
<rect x="432.60" y="160.00" width="8.20" height="5.20" fill="#7030a0" stroke="none" stroke-width="0"/>
<text x="443.00" y="165.03" font-family="'Liberation Serif', serif" font-size="6.95" text-anchor="start" font-weight="normal" font-style="normal" fill="#222" stroke="#222" stroke-width="0.12"><tspan font-style="italic">dFOXO</tspan>-knockdown+HSD</text>
<text x="4.80" y="285.30" font-family="'Liberation Serif', serif" font-size="10" text-anchor="start" font-weight="normal" font-style="normal" fill="#000" stroke="#000" stroke-width="0.05">F</text>
<line x1="43.50" y1="283.00" x2="43.50" y2="364.80" stroke="#555" stroke-width="1.3"/>
<line x1="43.00" y1="364.30" x2="163.00" y2="364.30" stroke="#777" stroke-width="1.5"/>
<line x1="41.30" y1="364.20" x2="43.50" y2="364.20" stroke="#444" stroke-width="1"/>
<text x="38.30" y="366.82" font-family="'Liberation Serif', serif" font-size="7.5" text-anchor="end" font-weight="normal" font-style="normal" fill="#222" stroke="#222" stroke-width="0.12">0</text>
<line x1="41.30" y1="348.06" x2="43.50" y2="348.06" stroke="#444" stroke-width="1"/>
<text x="38.30" y="350.69" font-family="'Liberation Serif', serif" font-size="7.5" text-anchor="end" font-weight="normal" font-style="normal" fill="#222" stroke="#222" stroke-width="0.12">20</text>
<line x1="41.30" y1="331.92" x2="43.50" y2="331.92" stroke="#444" stroke-width="1"/>
<text x="38.30" y="334.54" font-family="'Liberation Serif', serif" font-size="7.5" text-anchor="end" font-weight="normal" font-style="normal" fill="#222" stroke="#222" stroke-width="0.12">40</text>
<line x1="41.30" y1="315.78" x2="43.50" y2="315.78" stroke="#444" stroke-width="1"/>
<text x="38.30" y="318.40" font-family="'Liberation Serif', serif" font-size="7.5" text-anchor="end" font-weight="normal" font-style="normal" fill="#222" stroke="#222" stroke-width="0.12">60</text>
<line x1="41.30" y1="299.64" x2="43.50" y2="299.64" stroke="#444" stroke-width="1"/>
<text x="38.30" y="302.26" font-family="'Liberation Serif', serif" font-size="7.5" text-anchor="end" font-weight="normal" font-style="normal" fill="#222" stroke="#222" stroke-width="0.12">80</text>
<line x1="41.30" y1="283.50" x2="43.50" y2="283.50" stroke="#444" stroke-width="1"/>
<text x="38.30" y="286.12" font-family="'Liberation Serif', serif" font-size="7.5" text-anchor="end" font-weight="normal" font-style="normal" fill="#222" stroke="#222" stroke-width="0.12">100</text>
<line x1="44.00" y1="364.30" x2="44.00" y2="366.40" stroke="#444" stroke-width="1"/>
<text x="44.00" y="373.88" font-family="'Liberation Serif', serif" font-size="6.5" text-anchor="middle" font-weight="normal" font-style="normal" fill="#444" stroke="#444" stroke-width="0.12">0</text>
<line x1="62.10" y1="364.30" x2="62.10" y2="366.40" stroke="#444" stroke-width="1"/>
<text x="62.10" y="373.88" font-family="'Liberation Serif', serif" font-size="6.5" text-anchor="middle" font-weight="normal" font-style="normal" fill="#444" stroke="#444" stroke-width="0.12">20</text>
<line x1="80.20" y1="364.30" x2="80.20" y2="366.40" stroke="#444" stroke-width="1"/>
<text x="80.20" y="373.88" font-family="'Liberation Serif', serif" font-size="6.5" text-anchor="middle" font-weight="normal" font-style="normal" fill="#444" stroke="#444" stroke-width="0.12">30</text>
<line x1="98.30" y1="364.30" x2="98.30" y2="366.40" stroke="#444" stroke-width="1"/>
<text x="98.30" y="373.88" font-family="'Liberation Serif', serif" font-size="6.5" text-anchor="middle" font-weight="normal" font-style="normal" fill="#444" stroke="#444" stroke-width="0.12">40</text>
<line x1="116.40" y1="364.30" x2="116.40" y2="366.40" stroke="#444" stroke-width="1"/>
<text x="116.40" y="373.88" font-family="'Liberation Serif', serif" font-size="6.5" text-anchor="middle" font-weight="normal" font-style="normal" fill="#444" stroke="#444" stroke-width="0.12">50</text>
<line x1="134.50" y1="364.30" x2="134.50" y2="366.40" stroke="#444" stroke-width="1"/>
<text x="134.50" y="373.88" font-family="'Liberation Serif', serif" font-size="6.5" text-anchor="middle" font-weight="normal" font-style="normal" fill="#444" stroke="#444" stroke-width="0.12">60</text>
<line x1="152.60" y1="364.30" x2="152.60" y2="366.40" stroke="#444" stroke-width="1"/>
<text x="152.60" y="373.88" font-family="'Liberation Serif', serif" font-size="6.5" text-anchor="middle" font-weight="normal" font-style="normal" fill="#444" stroke="#444" stroke-width="0.12">70</text>
<text x="101.00" y="382.65" font-family="'Liberation Serif', serif" font-size="7" text-anchor="middle" font-weight="normal" font-style="normal" fill="#333" stroke="#333" stroke-width="0.12">Age(day)</text>
<text x="20.60" y="325.65" font-family="'Liberation Serif', serif" font-size="6.7" text-anchor="middle" font-weight="normal" font-style="normal" fill="#222" stroke="#222" stroke-width="0.12" transform="rotate(-90 20.60 323.30)">Percentage of survival(%)</text>
<polyline points="43.50,283.20 100.00,283.40 109.40,284.60 114.20,286.50 118.10,289.50 120.50,294.20 122.40,297.80 124.20,301.80 125.80,307.00 127.40,313.70 129.20,321.30 131.40,329.00 134.30,341.50 138.00,347.80 141.90,354.30 145.30,356.90 150.10,359.50 155.30,361.60 159.60,362.90 163.90,364.10" fill="none" stroke="#2a8fd4" stroke-width="2.0" stroke-linejoin="round"/>
<circle cx="43.50" cy="283.20" r="1.8" fill="#2a8fd4" stroke="#1f6aa0" stroke-width="0.5"/>
<circle cx="45.31" cy="283.21" r="1.8" fill="#2a8fd4" stroke="#1f6aa0" stroke-width="0.5"/>
<circle cx="47.12" cy="283.21" r="1.8" fill="#2a8fd4" stroke="#1f6aa0" stroke-width="0.5"/>
<circle cx="48.93" cy="283.22" r="1.8" fill="#2a8fd4" stroke="#1f6aa0" stroke-width="0.5"/>
<circle cx="50.74" cy="283.23" r="1.8" fill="#2a8fd4" stroke="#1f6aa0" stroke-width="0.5"/>
<circle cx="52.55" cy="283.23" r="1.8" fill="#2a8fd4" stroke="#1f6aa0" stroke-width="0.5"/>
<circle cx="54.36" cy="283.24" r="1.8" fill="#2a8fd4" stroke="#1f6aa0" stroke-width="0.5"/>
<circle cx="56.17" cy="283.24" r="1.8" fill="#2a8fd4" stroke="#1f6aa0" stroke-width="0.5"/>
<circle cx="57.98" cy="283.25" r="1.8" fill="#2a8fd4" stroke="#1f6aa0" stroke-width="0.5"/>
<circle cx="59.79" cy="283.26" r="1.8" fill="#2a8fd4" stroke="#1f6aa0" stroke-width="0.5"/>
<circle cx="61.60" cy="283.26" r="1.8" fill="#2a8fd4" stroke="#1f6aa0" stroke-width="0.5"/>
<circle cx="63.41" cy="283.27" r="1.8" fill="#2a8fd4" stroke="#1f6aa0" stroke-width="0.5"/>
<circle cx="65.22" cy="283.28" r="1.8" fill="#2a8fd4" stroke="#1f6aa0" stroke-width="0.5"/>
<circle cx="67.03" cy="283.28" r="1.8" fill="#2a8fd4" stroke="#1f6aa0" stroke-width="0.5"/>
<circle cx="68.84" cy="283.29" r="1.8" fill="#2a8fd4" stroke="#1f6aa0" stroke-width="0.5"/>
<circle cx="70.65" cy="283.30" r="1.8" fill="#2a8fd4" stroke="#1f6aa0" stroke-width="0.5"/>
<circle cx="72.46" cy="283.30" r="1.8" fill="#2a8fd4" stroke="#1f6aa0" stroke-width="0.5"/>
<circle cx="74.27" cy="283.31" r="1.8" fill="#2a8fd4" stroke="#1f6aa0" stroke-width="0.5"/>
<circle cx="76.08" cy="283.32" r="1.8" fill="#2a8fd4" stroke="#1f6aa0" stroke-width="0.5"/>
<circle cx="77.89" cy="283.32" r="1.8" fill="#2a8fd4" stroke="#1f6aa0" stroke-width="0.5"/>
<circle cx="79.70" cy="283.33" r="1.8" fill="#2a8fd4" stroke="#1f6aa0" stroke-width="0.5"/>
<circle cx="81.51" cy="283.33" r="1.8" fill="#2a8fd4" stroke="#1f6aa0" stroke-width="0.5"/>
<circle cx="83.32" cy="283.34" r="1.8" fill="#2a8fd4" stroke="#1f6aa0" stroke-width="0.5"/>
<circle cx="85.13" cy="283.35" r="1.8" fill="#2a8fd4" stroke="#1f6aa0" stroke-width="0.5"/>
<circle cx="86.94" cy="283.35" r="1.8" fill="#2a8fd4" stroke="#1f6aa0" stroke-width="0.5"/>
<circle cx="88.75" cy="283.36" r="1.8" fill="#2a8fd4" stroke="#1f6aa0" stroke-width="0.5"/>
<circle cx="90.56" cy="283.37" r="1.8" fill="#2a8fd4" stroke="#1f6aa0" stroke-width="0.5"/>
<circle cx="92.37" cy="283.37" r="1.8" fill="#2a8fd4" stroke="#1f6aa0" stroke-width="0.5"/>
<circle cx="94.18" cy="283.38" r="1.8" fill="#2a8fd4" stroke="#1f6aa0" stroke-width="0.5"/>
<circle cx="95.99" cy="283.39" r="1.8" fill="#2a8fd4" stroke="#1f6aa0" stroke-width="0.5"/>
<circle cx="97.80" cy="283.39" r="1.8" fill="#2a8fd4" stroke="#1f6aa0" stroke-width="0.5"/>
<circle cx="99.61" cy="283.40" r="1.8" fill="#2a8fd4" stroke="#1f6aa0" stroke-width="0.5"/>
<circle cx="101.42" cy="283.58" r="1.8" fill="#2a8fd4" stroke="#1f6aa0" stroke-width="0.5"/>
<circle cx="103.23" cy="283.81" r="1.8" fill="#2a8fd4" stroke="#1f6aa0" stroke-width="0.5"/>
<circle cx="105.04" cy="284.04" r="1.8" fill="#2a8fd4" stroke="#1f6aa0" stroke-width="0.5"/>
<circle cx="106.85" cy="284.27" r="1.8" fill="#2a8fd4" stroke="#1f6aa0" stroke-width="0.5"/>
<circle cx="108.66" cy="284.51" r="1.8" fill="#2a8fd4" stroke="#1f6aa0" stroke-width="0.5"/>
<circle cx="110.47" cy="285.02" r="1.8" fill="#2a8fd4" stroke="#1f6aa0" stroke-width="0.5"/>
<circle cx="112.28" cy="285.74" r="1.8" fill="#2a8fd4" stroke="#1f6aa0" stroke-width="0.5"/>
<circle cx="114.09" cy="286.46" r="1.8" fill="#2a8fd4" stroke="#1f6aa0" stroke-width="0.5"/>
<circle cx="115.90" cy="287.81" r="1.8" fill="#2a8fd4" stroke="#1f6aa0" stroke-width="0.5"/>
<circle cx="117.71" cy="289.20" r="1.8" fill="#2a8fd4" stroke="#1f6aa0" stroke-width="0.5"/>
<circle cx="119.52" cy="292.28" r="1.8" fill="#2a8fd4" stroke="#1f6aa0" stroke-width="0.5"/>
<circle cx="121.33" cy="295.77" r="1.8" fill="#2a8fd4" stroke="#1f6aa0" stroke-width="0.5"/>
<circle cx="123.14" cy="299.44" r="1.8" fill="#2a8fd4" stroke="#1f6aa0" stroke-width="0.5"/>
<circle cx="124.95" cy="304.24" r="1.8" fill="#2a8fd4" stroke="#1f6aa0" stroke-width="0.5"/>
<circle cx="126.76" cy="311.02" r="1.8" fill="#2a8fd4" stroke="#1f6aa0" stroke-width="0.5"/>
<circle cx="128.57" cy="318.64" r="1.8" fill="#2a8fd4" stroke="#1f6aa0" stroke-width="0.5"/>
<circle cx="130.38" cy="325.43" r="1.8" fill="#2a8fd4" stroke="#1f6aa0" stroke-width="0.5"/>
<circle cx="132.19" cy="332.41" r="1.8" fill="#2a8fd4" stroke="#1f6aa0" stroke-width="0.5"/>
<circle cx="134.00" cy="340.21" r="1.8" fill="#2a8fd4" stroke="#1f6aa0" stroke-width="0.5"/>
<circle cx="135.81" cy="344.07" r="1.8" fill="#2a8fd4" stroke="#1f6aa0" stroke-width="0.5"/>
<circle cx="137.62" cy="347.15" r="1.8" fill="#2a8fd4" stroke="#1f6aa0" stroke-width="0.5"/>
<circle cx="139.43" cy="350.18" r="1.8" fill="#2a8fd4" stroke="#1f6aa0" stroke-width="0.5"/>
<circle cx="141.24" cy="353.20" r="1.8" fill="#2a8fd4" stroke="#1f6aa0" stroke-width="0.5"/>
<circle cx="143.05" cy="355.18" r="1.8" fill="#2a8fd4" stroke="#1f6aa0" stroke-width="0.5"/>
<circle cx="144.86" cy="356.56" r="1.8" fill="#2a8fd4" stroke="#1f6aa0" stroke-width="0.5"/>
<circle cx="146.67" cy="357.64" r="1.8" fill="#2a8fd4" stroke="#1f6aa0" stroke-width="0.5"/>
<circle cx="148.48" cy="358.62" r="1.8" fill="#2a8fd4" stroke="#1f6aa0" stroke-width="0.5"/>
<circle cx="150.29" cy="359.58" r="1.8" fill="#2a8fd4" stroke="#1f6aa0" stroke-width="0.5"/>
<circle cx="152.10" cy="360.31" r="1.8" fill="#2a8fd4" stroke="#1f6aa0" stroke-width="0.5"/>
<circle cx="153.91" cy="361.04" r="1.8" fill="#2a8fd4" stroke="#1f6aa0" stroke-width="0.5"/>
<circle cx="155.72" cy="361.73" r="1.8" fill="#2a8fd4" stroke="#1f6aa0" stroke-width="0.5"/>
<circle cx="157.53" cy="362.27" r="1.8" fill="#2a8fd4" stroke="#1f6aa0" stroke-width="0.5"/>
<circle cx="159.34" cy="362.82" r="1.8" fill="#2a8fd4" stroke="#1f6aa0" stroke-width="0.5"/>
<circle cx="161.15" cy="363.33" r="1.8" fill="#2a8fd4" stroke="#1f6aa0" stroke-width="0.5"/>
<circle cx="162.96" cy="363.84" r="1.8" fill="#2a8fd4" stroke="#1f6aa0" stroke-width="0.5"/>
<polyline points="43.50,283.40 90.00,283.80 100.00,284.30 106.00,286.40 109.00,289.30 111.30,292.50 112.80,295.60 114.50,300.50 116.20,306.50 117.60,313.00 119.30,319.80 121.30,326.50 123.40,332.50 127.20,340.40 131.50,347.40 135.40,353.00 141.00,359.50 145.00,361.60 150.10,363.40 155.30,364.10" fill="none" stroke="#f06a1a" stroke-width="2.0" stroke-linejoin="round"/>
<circle cx="43.50" cy="283.40" r="1.8" fill="#f06a1a"/>
<circle cx="45.31" cy="283.42" r="1.8" fill="#f06a1a"/>
<circle cx="47.12" cy="283.43" r="1.8" fill="#f06a1a"/>
<circle cx="48.93" cy="283.45" r="1.8" fill="#f06a1a"/>
<circle cx="50.74" cy="283.46" r="1.8" fill="#f06a1a"/>
<circle cx="52.55" cy="283.48" r="1.8" fill="#f06a1a"/>
<circle cx="54.36" cy="283.49" r="1.8" fill="#f06a1a"/>
<circle cx="56.17" cy="283.51" r="1.8" fill="#f06a1a"/>
<circle cx="57.98" cy="283.52" r="1.8" fill="#f06a1a"/>
<circle cx="59.79" cy="283.54" r="1.8" fill="#f06a1a"/>
<circle cx="61.60" cy="283.56" r="1.8" fill="#f06a1a"/>
<circle cx="63.41" cy="283.57" r="1.8" fill="#f06a1a"/>
<circle cx="65.22" cy="283.59" r="1.8" fill="#f06a1a"/>
<circle cx="67.03" cy="283.60" r="1.8" fill="#f06a1a"/>
<circle cx="68.84" cy="283.62" r="1.8" fill="#f06a1a"/>
<circle cx="70.65" cy="283.63" r="1.8" fill="#f06a1a"/>
<circle cx="72.46" cy="283.65" r="1.8" fill="#f06a1a"/>
<circle cx="74.27" cy="283.66" r="1.8" fill="#f06a1a"/>
<circle cx="76.08" cy="283.68" r="1.8" fill="#f06a1a"/>
<circle cx="77.89" cy="283.70" r="1.8" fill="#f06a1a"/>
<circle cx="79.70" cy="283.71" r="1.8" fill="#f06a1a"/>
<circle cx="81.51" cy="283.73" r="1.8" fill="#f06a1a"/>
<circle cx="83.32" cy="283.74" r="1.8" fill="#f06a1a"/>
<circle cx="85.13" cy="283.76" r="1.8" fill="#f06a1a"/>
<circle cx="86.94" cy="283.77" r="1.8" fill="#f06a1a"/>
<circle cx="88.75" cy="283.79" r="1.8" fill="#f06a1a"/>
<circle cx="90.56" cy="283.83" r="1.8" fill="#f06a1a"/>
<circle cx="92.37" cy="283.92" r="1.8" fill="#f06a1a"/>
<circle cx="94.18" cy="284.01" r="1.8" fill="#f06a1a"/>
<circle cx="95.99" cy="284.10" r="1.8" fill="#f06a1a"/>
<circle cx="97.80" cy="284.19" r="1.8" fill="#f06a1a"/>
<circle cx="99.61" cy="284.28" r="1.8" fill="#f06a1a"/>
<circle cx="101.42" cy="284.80" r="1.8" fill="#f06a1a"/>
<circle cx="103.23" cy="285.43" r="1.8" fill="#f06a1a"/>
<circle cx="105.04" cy="286.06" r="1.8" fill="#f06a1a"/>
<circle cx="106.85" cy="287.22" r="1.8" fill="#f06a1a"/>
<circle cx="108.66" cy="288.97" r="1.8" fill="#f06a1a"/>
<circle cx="110.47" cy="291.35" r="1.8" fill="#f06a1a"/>
<circle cx="112.28" cy="294.53" r="1.8" fill="#f06a1a"/>
<circle cx="114.09" cy="299.32" r="1.8" fill="#f06a1a"/>
<circle cx="115.90" cy="305.44" r="1.8" fill="#f06a1a"/>
<circle cx="117.71" cy="313.44" r="1.8" fill="#f06a1a"/>
<circle cx="119.52" cy="320.54" r="1.8" fill="#f06a1a"/>
<circle cx="121.33" cy="326.59" r="1.8" fill="#f06a1a"/>
<circle cx="123.14" cy="331.76" r="1.8" fill="#f06a1a"/>
<circle cx="124.95" cy="335.72" r="1.8" fill="#f06a1a"/>
<circle cx="126.76" cy="339.49" r="1.8" fill="#f06a1a"/>
<circle cx="128.57" cy="342.63" r="1.8" fill="#f06a1a"/>
<circle cx="130.38" cy="345.58" r="1.8" fill="#f06a1a"/>
<circle cx="132.19" cy="348.39" r="1.8" fill="#f06a1a"/>
<circle cx="134.00" cy="350.99" r="1.8" fill="#f06a1a"/>
<circle cx="135.81" cy="353.48" r="1.8" fill="#f06a1a"/>
<circle cx="137.62" cy="355.58" r="1.8" fill="#f06a1a"/>
<circle cx="139.43" cy="357.68" r="1.8" fill="#f06a1a"/>
<circle cx="141.24" cy="359.63" r="1.8" fill="#f06a1a"/>
<circle cx="143.05" cy="360.58" r="1.8" fill="#f06a1a"/>
<circle cx="144.86" cy="361.53" r="1.8" fill="#f06a1a"/>
<circle cx="146.67" cy="362.19" r="1.8" fill="#f06a1a"/>
<circle cx="148.48" cy="362.83" r="1.8" fill="#f06a1a"/>
<circle cx="150.29" cy="363.43" r="1.8" fill="#f06a1a"/>
<circle cx="152.10" cy="363.67" r="1.8" fill="#f06a1a"/>
<circle cx="153.91" cy="363.91" r="1.8" fill="#f06a1a"/>
<polyline points="43.50,284.20 63.00,284.80 80.00,285.80 88.00,287.00 91.50,288.80 94.90,293.30 97.50,299.00 99.90,304.90 103.20,314.80 107.40,328.90 111.50,341.40 115.70,351.30 119.80,358.00 124.80,362.50 133.00,363.60" fill="none" stroke="#a83db5" stroke-width="2.0" stroke-linejoin="round"/>
<polygon points="43.50,282.26 41.70,285.50 45.30,285.50" fill="#a83db5"/>
<polygon points="45.31,282.31 43.51,285.55 47.11,285.55" fill="#a83db5"/>
<polygon points="47.12,282.37 45.32,285.61 48.92,285.61" fill="#a83db5"/>
<polygon points="48.93,282.42 47.13,285.66 50.73,285.66" fill="#a83db5"/>
<polygon points="50.74,282.48 48.94,285.72 52.54,285.72" fill="#a83db5"/>
<polygon points="52.55,282.53 50.75,285.77 54.35,285.77" fill="#a83db5"/>
<polygon points="54.36,282.59 52.56,285.83 56.16,285.83" fill="#a83db5"/>
<polygon points="56.17,282.65 54.37,285.89 57.97,285.89" fill="#a83db5"/>
<polygon points="57.98,282.70 56.18,285.94 59.78,285.94" fill="#a83db5"/>
<polygon points="59.79,282.76 57.99,286.00 61.59,286.00" fill="#a83db5"/>
<polygon points="61.60,282.81 59.80,286.05 63.40,286.05" fill="#a83db5"/>
<polygon points="63.41,282.88 61.61,286.12 65.21,286.12" fill="#a83db5"/>
<polygon points="65.22,282.99 63.42,286.23 67.02,286.23" fill="#a83db5"/>
<polygon points="67.03,283.09 65.23,286.33 68.83,286.33" fill="#a83db5"/>
<polygon points="68.84,283.20 67.04,286.44 70.64,286.44" fill="#a83db5"/>
<polygon points="70.65,283.31 68.85,286.55 72.45,286.55" fill="#a83db5"/>
<polygon points="72.46,283.41 70.66,286.65 74.26,286.65" fill="#a83db5"/>
<polygon points="74.27,283.52 72.47,286.76 76.07,286.76" fill="#a83db5"/>
<polygon points="76.08,283.63 74.28,286.87 77.88,286.87" fill="#a83db5"/>
<polygon points="77.89,283.73 76.09,286.97 79.69,286.97" fill="#a83db5"/>
<polygon points="79.70,283.84 77.90,287.08 81.50,287.08" fill="#a83db5"/>
<polygon points="81.51,284.08 79.71,287.32 83.31,287.32" fill="#a83db5"/>
<polygon points="83.32,284.35 81.52,287.59 85.12,287.59" fill="#a83db5"/>
<polygon points="85.13,284.63 83.33,287.87 86.93,287.87" fill="#a83db5"/>
<polygon points="86.94,284.90 85.14,288.14 88.74,288.14" fill="#a83db5"/>
<polygon points="88.75,285.44 86.95,288.68 90.55,288.68" fill="#a83db5"/>
<polygon points="90.56,286.37 88.76,289.61 92.36,289.61" fill="#a83db5"/>
<polygon points="92.37,288.01 90.57,291.25 94.17,291.25" fill="#a83db5"/>
<polygon points="94.18,290.40 92.38,293.64 95.98,293.64" fill="#a83db5"/>
<polygon points="95.99,293.75 94.19,296.99 97.79,296.99" fill="#a83db5"/>
<polygon points="97.80,297.79 96.00,301.03 99.60,301.03" fill="#a83db5"/>
<polygon points="99.61,302.24 97.81,305.48 101.41,305.48" fill="#a83db5"/>
<polygon points="101.42,307.52 99.62,310.76 103.22,310.76" fill="#a83db5"/>
<polygon points="103.23,312.96 101.43,316.20 105.03,316.20" fill="#a83db5"/>
<polygon points="105.04,319.03 103.24,322.27 106.84,322.27" fill="#a83db5"/>
<polygon points="106.85,325.11 105.05,328.35 108.65,328.35" fill="#a83db5"/>
<polygon points="108.66,330.80 106.86,334.04 110.46,334.04" fill="#a83db5"/>
<polygon points="110.47,336.32 108.67,339.56 112.27,339.56" fill="#a83db5"/>
<polygon points="112.28,341.29 110.48,344.53 114.08,344.53" fill="#a83db5"/>
<polygon points="114.09,345.56 112.29,348.80 115.89,348.80" fill="#a83db5"/>
<polygon points="115.90,349.68 114.10,352.92 117.70,352.92" fill="#a83db5"/>
<polygon points="117.71,352.64 115.91,355.88 119.51,355.88" fill="#a83db5"/>
<polygon points="119.52,355.60 117.72,358.84 121.32,358.84" fill="#a83db5"/>
<polygon points="121.33,357.43 119.53,360.67 123.13,360.67" fill="#a83db5"/>
<polygon points="123.14,359.06 121.34,362.30 124.94,362.30" fill="#a83db5"/>
<polygon points="124.95,360.58 123.15,363.82 126.75,363.82" fill="#a83db5"/>
<polygon points="126.76,360.82 124.96,364.06 128.56,364.06" fill="#a83db5"/>
<polygon points="128.57,361.06 126.77,364.30 130.37,364.30" fill="#a83db5"/>
<polygon points="130.38,361.30 128.58,364.54 132.18,364.54" fill="#a83db5"/>
<polygon points="132.19,361.55 130.39,364.79 133.99,364.79" fill="#a83db5"/>
<line x1="107.50" y1="329.00" x2="122.90" y2="329.00" stroke="#111" stroke-width="1.3"/>
<polygon points="111.50,322.80 112.16,324.39 113.88,324.53 112.57,325.65 112.97,327.32 111.50,326.43 110.03,327.32 110.43,325.65 109.12,324.53 110.84,324.39" fill="#111"/>
<polygon points="116.50,322.80 117.16,324.39 118.88,324.53 117.57,325.65 117.97,327.32 116.50,326.43 115.03,327.32 115.43,325.65 114.12,324.53 115.84,324.39" fill="#111"/>
<line x1="121.00" y1="323.30" x2="128.70" y2="323.30" stroke="#111" stroke-width="1.3"/>
<polygon points="124.80,317.20 125.46,318.79 127.18,318.93 125.87,320.05 126.27,321.72 124.80,320.82 123.33,321.72 123.73,320.05 122.42,318.93 124.14,318.79" fill="#111"/>
<rect x="138.00" y="279.50" width="89.50" height="24.00" fill="#fff" stroke="#777" stroke-width="0.8"/>
<line x1="140.00" y1="283.80" x2="150.00" y2="283.80" stroke="#2a8fd4" stroke-width="1.5"/>
<circle cx="145.00" cy="283.80" r="1.7" fill="#2a8fd4"/>
<text x="151.30" y="286.29" font-family="'Liberation Serif', serif" font-size="7.1" text-anchor="start" font-weight="normal" font-style="normal" fill="#222" stroke="#222" stroke-width="0.12"><tspan font-style="italic">dFOXO</tspan>-control</text>
<line x1="140.00" y1="291.60" x2="150.00" y2="291.60" stroke="#c8601c" stroke-width="1.5"/>
<rect x="143.40" y="290.00" width="3.2" height="3.2" fill="#c8601c"/>
<text x="151.30" y="294.09" font-family="'Liberation Serif', serif" font-size="7.1" text-anchor="start" font-weight="normal" font-style="normal" fill="#222" stroke="#222" stroke-width="0.12"><tspan font-style="italic">dFOXO</tspan>-knockdown</text>
<line x1="140.00" y1="299.30" x2="150.00" y2="299.30" stroke="#b050c0" stroke-width="1.5"/>
<polygon points="145.00,297.03 142.90,300.81 147.10,300.81" fill="#b050c0"/>
<text x="151.30" y="301.79" font-family="'Liberation Serif', serif" font-size="7.1" text-anchor="start" font-weight="normal" font-style="normal" fill="#222" stroke="#222" stroke-width="0.12"><tspan font-style="italic">dFOXO</tspan>-knockdown+HSD</text>
<text x="275.30" y="284.00" font-family="'Liberation Serif', serif" font-size="10" text-anchor="start" font-weight="normal" font-style="normal" fill="#000" stroke="#000" stroke-width="0.05">G</text>
<line x1="355.50" y1="281.00" x2="355.50" y2="363.00" stroke="#111" stroke-width="1.1"/>
<line x1="355.00" y1="362.50" x2="454.50" y2="362.50" stroke="#111" stroke-width="1.1"/>
<line x1="355.50" y1="362.50" x2="355.50" y2="364.80" stroke="#111" stroke-width="0.9"/>
<text x="355.50" y="372.95" font-family="'Liberation Serif', serif" font-size="7" text-anchor="middle" font-weight="normal" font-style="normal" fill="#222" stroke="#222" stroke-width="0.12">0</text>
<line x1="380.25" y1="362.50" x2="380.25" y2="364.80" stroke="#111" stroke-width="0.9"/>
<text x="380.25" y="372.95" font-family="'Liberation Serif', serif" font-size="7" text-anchor="middle" font-weight="normal" font-style="normal" fill="#222" stroke="#222" stroke-width="0.12">20</text>
<line x1="405.00" y1="362.50" x2="405.00" y2="364.80" stroke="#111" stroke-width="0.9"/>
<text x="405.00" y="372.95" font-family="'Liberation Serif', serif" font-size="7" text-anchor="middle" font-weight="normal" font-style="normal" fill="#222" stroke="#222" stroke-width="0.12">40</text>
<line x1="429.75" y1="362.50" x2="429.75" y2="364.80" stroke="#111" stroke-width="0.9"/>
<text x="429.75" y="372.95" font-family="'Liberation Serif', serif" font-size="7" text-anchor="middle" font-weight="normal" font-style="normal" fill="#222" stroke="#222" stroke-width="0.12">60</text>
<line x1="454.50" y1="362.50" x2="454.50" y2="364.80" stroke="#111" stroke-width="0.9"/>
<text x="454.50" y="372.95" font-family="'Liberation Serif', serif" font-size="7" text-anchor="middle" font-weight="normal" font-style="normal" fill="#222" stroke="#222" stroke-width="0.12">80</text>
<text x="410.30" y="381.35" font-family="'Liberation Serif', serif" font-size="7" text-anchor="middle" font-weight="normal" font-style="normal" fill="#222" stroke="#222" stroke-width="0.12">Age(day)</text>
<rect x="355.50" y="291.25" width="51.98" height="15.75" fill="#7b48cf" stroke="#2a2a2a" stroke-width="0.8"/>
<line x1="403.76" y1="299.12" x2="411.19" y2="299.12" stroke="#444" stroke-width="0.6"/>
<line x1="403.76" y1="298.02" x2="403.76" y2="300.23" stroke="#444" stroke-width="0.6"/>
<line x1="411.19" y1="298.02" x2="411.19" y2="300.23" stroke="#444" stroke-width="0.6"/>
<text x="352.60" y="301.05" font-family="'Liberation Serif', serif" font-size="7" text-anchor="end" font-weight="normal" font-style="normal" fill="#222" stroke="#222" stroke-width="0.12">dFoxo-knockdown+HSD</text>
<rect x="355.50" y="312.50" width="69.30" height="15.75" fill="#f4622c" stroke="#2a2a2a" stroke-width="0.8"/>
<line x1="420.47" y1="320.38" x2="429.13" y2="320.38" stroke="#444" stroke-width="0.6"/>
<line x1="420.47" y1="319.27" x2="420.47" y2="321.48" stroke="#444" stroke-width="0.6"/>
<line x1="429.13" y1="319.27" x2="429.13" y2="321.48" stroke="#444" stroke-width="0.6"/>
<text x="352.60" y="322.45" font-family="'Liberation Serif', serif" font-size="7" text-anchor="end" font-weight="normal" font-style="normal" fill="#222" stroke="#222" stroke-width="0.12">dFoxo-knockdown</text>
<rect x="355.50" y="334.25" width="78.58" height="16.50" fill="#5aa2ea" stroke="#2a2a2a" stroke-width="0.8"/>
<line x1="430.37" y1="342.50" x2="437.79" y2="342.50" stroke="#444" stroke-width="0.6"/>
<line x1="430.37" y1="341.40" x2="430.37" y2="343.60" stroke="#444" stroke-width="0.6"/>
<line x1="437.79" y1="341.40" x2="437.79" y2="343.60" stroke="#444" stroke-width="0.6"/>
<text x="352.60" y="346.25" font-family="'Liberation Serif', serif" font-size="7" text-anchor="end" font-weight="normal" font-style="normal" fill="#222" stroke="#222" stroke-width="0.12"><tspan font-style="italic">dFOXO</tspan>-control</text>
<rect x="154.90" y="396.00" width="233.80" height="8.60" fill="#fff" stroke="#777" stroke-width="0.7"/>
<rect x="159.20" y="398.00" width="7.30" height="4.80" fill="#16b0ee" stroke="none" stroke-width="0"/>
<text x="168.10" y="402.75" font-family="'Liberation Serif', serif" font-size="7" text-anchor="start" font-weight="normal" font-style="normal" fill="#222" stroke="#222" stroke-width="0.12"><tspan font-style="italic">dFOXO</tspan>-control</text>
<rect x="226.00" y="398.00" width="7.30" height="4.80" fill="#e8700e" stroke="none" stroke-width="0"/>
<text x="235.00" y="402.75" font-family="'Liberation Serif', serif" font-size="7" text-anchor="start" font-weight="normal" font-style="normal" fill="#222" stroke="#222" stroke-width="0.12"><tspan font-style="italic">dFOXO</tspan>-knockdown</text>
<rect x="301.25" y="398.00" width="7.30" height="4.80" fill="#7030a0" stroke="none" stroke-width="0"/>
<text x="310.00" y="402.75" font-family="'Liberation Serif', serif" font-size="7" text-anchor="start" font-weight="normal" font-style="normal" fill="#222" stroke="#222" stroke-width="0.12"><tspan font-style="italic">dFOXO</tspan>-knockdown+HSD</text>
<text x="15.80" y="412.12" font-family="'Liberation Serif', serif" font-size="9.5" text-anchor="start" font-weight="bold" font-style="normal" fill="#000" stroke="#000" stroke-width="0.05">H</text>
<line x1="52.60" y1="425.40" x2="52.60" y2="539.00" stroke="#000" stroke-width="1.25"/>
<line x1="52.00" y1="538.40" x2="107.30" y2="538.40" stroke="#000" stroke-width="1.4"/>
<line x1="50.10" y1="538.40" x2="52.60" y2="538.40" stroke="#000" stroke-width="1.1"/>
<text x="45.30" y="540.95" font-family="'Liberation Serif', serif" font-size="7.3" text-anchor="end" font-weight="normal" font-style="normal" fill="#222" stroke="#222" stroke-width="0.12">0.00</text>
<line x1="50.10" y1="522.33" x2="52.60" y2="522.33" stroke="#000" stroke-width="1.1"/>
<text x="45.30" y="524.88" font-family="'Liberation Serif', serif" font-size="7.3" text-anchor="end" font-weight="normal" font-style="normal" fill="#222" stroke="#222" stroke-width="0.12">0.50</text>
<line x1="50.10" y1="506.26" x2="52.60" y2="506.26" stroke="#000" stroke-width="1.1"/>
<text x="45.30" y="508.81" font-family="'Liberation Serif', serif" font-size="7.3" text-anchor="end" font-weight="normal" font-style="normal" fill="#222" stroke="#222" stroke-width="0.12">1.00</text>
<line x1="50.10" y1="490.19" x2="52.60" y2="490.19" stroke="#000" stroke-width="1.1"/>
<text x="45.30" y="492.74" font-family="'Liberation Serif', serif" font-size="7.3" text-anchor="end" font-weight="normal" font-style="normal" fill="#222" stroke="#222" stroke-width="0.12">1.50</text>
<line x1="50.10" y1="474.11" x2="52.60" y2="474.11" stroke="#000" stroke-width="1.1"/>
<text x="45.30" y="476.67" font-family="'Liberation Serif', serif" font-size="7.3" text-anchor="end" font-weight="normal" font-style="normal" fill="#222" stroke="#222" stroke-width="0.12">2.00</text>
<line x1="50.10" y1="458.04" x2="52.60" y2="458.04" stroke="#000" stroke-width="1.1"/>
<text x="45.30" y="460.60" font-family="'Liberation Serif', serif" font-size="7.3" text-anchor="end" font-weight="normal" font-style="normal" fill="#222" stroke="#222" stroke-width="0.12">2.50</text>
<line x1="50.10" y1="441.97" x2="52.60" y2="441.97" stroke="#000" stroke-width="1.1"/>
<text x="45.30" y="444.53" font-family="'Liberation Serif', serif" font-size="7.3" text-anchor="end" font-weight="normal" font-style="normal" fill="#222" stroke="#222" stroke-width="0.12">3.00</text>
<line x1="50.10" y1="425.90" x2="52.60" y2="425.90" stroke="#000" stroke-width="1.1"/>
<text x="45.30" y="428.45" font-family="'Liberation Serif', serif" font-size="7.3" text-anchor="end" font-weight="normal" font-style="normal" fill="#222" stroke="#222" stroke-width="0.12">3.50</text>
<rect x="61.80" y="506.26" width="12.70" height="32.14" fill="#16b0ee" stroke="none" stroke-width="0"/>
<rect x="74.50" y="505.61" width="12.70" height="32.79" fill="#e8700e" stroke="none" stroke-width="0"/>
<line x1="80.85" y1="503.36" x2="80.85" y2="505.61" stroke="#e8700e" stroke-width="1.1"/>
<line x1="79.35" y1="503.36" x2="82.35" y2="503.36" stroke="#e8700e" stroke-width="1.0"/>
<rect x="87.20" y="442.61" width="12.50" height="95.79" fill="#7030a0" stroke="none" stroke-width="0"/>
<line x1="93.45" y1="440.36" x2="93.45" y2="442.61" stroke="#7030a0" stroke-width="1.1"/>
<line x1="91.95" y1="440.36" x2="94.95" y2="440.36" stroke="#7030a0" stroke-width="1.0"/>
<line x1="83.50" y1="430.00" x2="94.60" y2="430.00" stroke="#333" stroke-width="0.9"/>
<line x1="83.50" y1="430.00" x2="83.50" y2="432.00" stroke="#333" stroke-width="0.9"/>
<line x1="94.60" y1="430.00" x2="94.60" y2="432.00" stroke="#333" stroke-width="0.9"/>
<polygon points="86.40,424.80 87.06,426.39 88.78,426.53 87.47,427.65 87.87,429.32 86.40,428.43 84.93,429.32 85.33,427.65 84.02,426.53 85.74,426.39" fill="#111"/>
<polygon points="91.40,424.80 92.06,426.39 93.78,426.53 92.47,427.65 92.87,429.32 91.40,428.43 89.93,429.32 90.33,427.65 89.02,426.53 90.74,426.39" fill="#111"/>
<text x="19.20" y="484.73" font-family="'Liberation Serif', serif" font-size="8.65" text-anchor="middle" font-weight="normal" font-style="normal" fill="#222" stroke="#222" stroke-width="0.12" transform="rotate(-90 19.20 481.70)">Relative <tspan font-style="italic">salt</tspan> expression</text>
<text x="142.80" y="414.56" font-family="'Liberation Serif', serif" font-size="9.3" text-anchor="start" font-weight="normal" font-style="normal" fill="#000" stroke="#000" stroke-width="0.05">I</text>
<line x1="178.75" y1="424.50" x2="178.75" y2="538.10" stroke="#000" stroke-width="1.25"/>
<line x1="178.15" y1="537.50" x2="233.75" y2="537.50" stroke="#000" stroke-width="1.4"/>
<line x1="176.25" y1="537.50" x2="178.75" y2="537.50" stroke="#000" stroke-width="1.1"/>
<text x="172.50" y="540.05" font-family="'Liberation Serif', serif" font-size="7.3" text-anchor="end" font-weight="normal" font-style="normal" fill="#222" stroke="#222" stroke-width="0.12">0.00</text>
<line x1="176.25" y1="518.75" x2="178.75" y2="518.75" stroke="#000" stroke-width="1.1"/>
<text x="172.50" y="521.30" font-family="'Liberation Serif', serif" font-size="7.3" text-anchor="end" font-weight="normal" font-style="normal" fill="#222" stroke="#222" stroke-width="0.12">0.20</text>
<line x1="176.25" y1="500.00" x2="178.75" y2="500.00" stroke="#000" stroke-width="1.1"/>
<text x="172.50" y="502.56" font-family="'Liberation Serif', serif" font-size="7.3" text-anchor="end" font-weight="normal" font-style="normal" fill="#222" stroke="#222" stroke-width="0.12">0.40</text>
<line x1="176.25" y1="481.25" x2="178.75" y2="481.25" stroke="#000" stroke-width="1.1"/>
<text x="172.50" y="483.81" font-family="'Liberation Serif', serif" font-size="7.3" text-anchor="end" font-weight="normal" font-style="normal" fill="#222" stroke="#222" stroke-width="0.12">0.60</text>
<line x1="176.25" y1="462.50" x2="178.75" y2="462.50" stroke="#000" stroke-width="1.1"/>
<text x="172.50" y="465.06" font-family="'Liberation Serif', serif" font-size="7.3" text-anchor="end" font-weight="normal" font-style="normal" fill="#222" stroke="#222" stroke-width="0.12">0.80</text>
<line x1="176.25" y1="443.75" x2="178.75" y2="443.75" stroke="#000" stroke-width="1.1"/>
<text x="172.50" y="446.31" font-family="'Liberation Serif', serif" font-size="7.3" text-anchor="end" font-weight="normal" font-style="normal" fill="#222" stroke="#222" stroke-width="0.12">1.00</text>
<line x1="176.25" y1="425.00" x2="178.75" y2="425.00" stroke="#000" stroke-width="1.1"/>
<text x="172.50" y="427.56" font-family="'Liberation Serif', serif" font-size="7.3" text-anchor="end" font-weight="normal" font-style="normal" fill="#222" stroke="#222" stroke-width="0.12">1.20</text>
<rect x="188.25" y="443.75" width="12.50" height="93.75" fill="#16b0ee" stroke="none" stroke-width="0"/>
<rect x="200.75" y="476.94" width="12.50" height="60.56" fill="#e8700e" stroke="none" stroke-width="0"/>
<line x1="207.00" y1="472.81" x2="207.00" y2="476.94" stroke="#e8700e" stroke-width="1.1"/>
<line x1="205.50" y1="472.81" x2="208.50" y2="472.81" stroke="#e8700e" stroke-width="1.0"/>
<rect x="213.25" y="511.72" width="12.50" height="25.78" fill="#7030a0" stroke="none" stroke-width="0"/>
<line x1="219.50" y1="504.31" x2="219.50" y2="511.72" stroke="#7030a0" stroke-width="1.1"/>
<line x1="218.00" y1="504.31" x2="221.00" y2="504.31" stroke="#7030a0" stroke-width="1.0"/>
<line x1="195.00" y1="432.50" x2="205.00" y2="432.50" stroke="#333" stroke-width="0.9"/>
<line x1="195.00" y1="432.50" x2="195.00" y2="434.50" stroke="#333" stroke-width="0.9"/>
<line x1="205.00" y1="432.50" x2="205.00" y2="434.50" stroke="#333" stroke-width="0.9"/>
<polygon points="197.50,425.80 198.16,427.39 199.88,427.53 198.57,428.65 198.97,430.32 197.50,429.43 196.03,430.32 196.43,428.65 195.12,427.53 196.84,427.39" fill="#111"/>
<polygon points="202.50,425.80 203.16,427.39 204.88,427.53 203.57,428.65 203.97,430.32 202.50,429.43 201.03,430.32 201.43,428.65 200.12,427.53 201.84,427.39" fill="#111"/>
<line x1="209.50" y1="459.50" x2="220.00" y2="459.50" stroke="#333" stroke-width="0.9"/>
<line x1="209.50" y1="459.50" x2="209.50" y2="461.50" stroke="#333" stroke-width="0.9"/>
<line x1="220.00" y1="459.50" x2="220.00" y2="461.50" stroke="#333" stroke-width="0.9"/>
<polygon points="212.50,452.80 213.16,454.39 214.88,454.53 213.57,455.65 213.97,457.32 212.50,456.43 211.03,457.32 211.43,455.65 210.12,454.53 211.84,454.39" fill="#111"/>
<polygon points="217.50,452.80 218.16,454.39 219.88,454.53 218.57,455.65 218.97,457.32 217.50,456.43 216.03,457.32 216.43,455.65 215.12,454.53 216.84,454.39" fill="#111"/>
<text x="145.50" y="481.78" font-family="'Liberation Serif', serif" font-size="8.65" text-anchor="middle" font-weight="normal" font-style="normal" fill="#222" stroke="#222" stroke-width="0.12" transform="rotate(-90 145.50 478.75)">Relative <tspan font-style="italic">dFOXO</tspan> expression</text>
<text x="264.90" y="416.45" font-family="'Liberation Serif', serif" font-size="9.3" text-anchor="start" font-weight="normal" font-style="normal" fill="#000" stroke="#000" stroke-width="0.05">J</text>
<line x1="306.20" y1="425.30" x2="306.20" y2="538.20" stroke="#000" stroke-width="1.25"/>
<line x1="305.60" y1="537.60" x2="362.10" y2="537.60" stroke="#000" stroke-width="1.4"/>
<line x1="303.70" y1="537.60" x2="306.20" y2="537.60" stroke="#000" stroke-width="1.1"/>
<text x="300.60" y="540.15" font-family="'Liberation Serif', serif" font-size="7.3" text-anchor="end" font-weight="normal" font-style="normal" fill="#222" stroke="#222" stroke-width="0.12">0.00</text>
<line x1="303.70" y1="526.42" x2="306.20" y2="526.42" stroke="#000" stroke-width="1.1"/>
<text x="300.60" y="528.98" font-family="'Liberation Serif', serif" font-size="7.3" text-anchor="end" font-weight="normal" font-style="normal" fill="#222" stroke="#222" stroke-width="0.12">5.00</text>
<line x1="303.70" y1="515.24" x2="306.20" y2="515.24" stroke="#000" stroke-width="1.1"/>
<text x="300.60" y="517.79" font-family="'Liberation Serif', serif" font-size="7.3" text-anchor="end" font-weight="normal" font-style="normal" fill="#222" stroke="#222" stroke-width="0.12">10.00</text>
<line x1="303.70" y1="504.06" x2="306.20" y2="504.06" stroke="#000" stroke-width="1.1"/>
<text x="300.60" y="506.62" font-family="'Liberation Serif', serif" font-size="7.3" text-anchor="end" font-weight="normal" font-style="normal" fill="#222" stroke="#222" stroke-width="0.12">15.00</text>
<line x1="303.70" y1="492.88" x2="306.20" y2="492.88" stroke="#000" stroke-width="1.1"/>
<text x="300.60" y="495.44" font-family="'Liberation Serif', serif" font-size="7.3" text-anchor="end" font-weight="normal" font-style="normal" fill="#222" stroke="#222" stroke-width="0.12">20.00</text>
<line x1="303.70" y1="481.70" x2="306.20" y2="481.70" stroke="#000" stroke-width="1.1"/>
<text x="300.60" y="484.26" font-family="'Liberation Serif', serif" font-size="7.3" text-anchor="end" font-weight="normal" font-style="normal" fill="#222" stroke="#222" stroke-width="0.12">25.00</text>
<line x1="303.70" y1="470.52" x2="306.20" y2="470.52" stroke="#000" stroke-width="1.1"/>
<text x="300.60" y="473.07" font-family="'Liberation Serif', serif" font-size="7.3" text-anchor="end" font-weight="normal" font-style="normal" fill="#222" stroke="#222" stroke-width="0.12">30.00</text>
<line x1="303.70" y1="459.34" x2="306.20" y2="459.34" stroke="#000" stroke-width="1.1"/>
<text x="300.60" y="461.90" font-family="'Liberation Serif', serif" font-size="7.3" text-anchor="end" font-weight="normal" font-style="normal" fill="#222" stroke="#222" stroke-width="0.12">35.00</text>
<line x1="303.70" y1="448.16" x2="306.20" y2="448.16" stroke="#000" stroke-width="1.1"/>
<text x="300.60" y="450.72" font-family="'Liberation Serif', serif" font-size="7.3" text-anchor="end" font-weight="normal" font-style="normal" fill="#222" stroke="#222" stroke-width="0.12">40.00</text>
<line x1="303.70" y1="436.98" x2="306.20" y2="436.98" stroke="#000" stroke-width="1.1"/>
<text x="300.60" y="439.54" font-family="'Liberation Serif', serif" font-size="7.3" text-anchor="end" font-weight="normal" font-style="normal" fill="#222" stroke="#222" stroke-width="0.12">45.00</text>
<line x1="303.70" y1="425.80" x2="306.20" y2="425.80" stroke="#000" stroke-width="1.1"/>
<text x="300.60" y="428.36" font-family="'Liberation Serif', serif" font-size="7.3" text-anchor="end" font-weight="normal" font-style="normal" fill="#222" stroke="#222" stroke-width="0.12">50.00</text>
<rect x="316.40" y="441.00" width="12.70" height="96.60" fill="#16b0ee" stroke="none" stroke-width="0"/>
<line x1="322.75" y1="435.19" x2="322.75" y2="441.00" stroke="#16b0ee" stroke-width="1.1"/>
<line x1="321.25" y1="435.19" x2="324.25" y2="435.19" stroke="#16b0ee" stroke-width="1.0"/>
<rect x="329.10" y="465.15" width="12.70" height="72.45" fill="#e8700e" stroke="none" stroke-width="0"/>
<line x1="335.45" y1="458.89" x2="335.45" y2="465.15" stroke="#e8700e" stroke-width="1.1"/>
<line x1="333.95" y1="458.89" x2="336.95" y2="458.89" stroke="#e8700e" stroke-width="1.0"/>
<rect x="341.80" y="496.46" width="12.20" height="41.14" fill="#7030a0" stroke="none" stroke-width="0"/>
<line x1="347.90" y1="490.20" x2="347.90" y2="496.46" stroke="#7030a0" stroke-width="1.1"/>
<line x1="346.40" y1="490.20" x2="349.40" y2="490.20" stroke="#7030a0" stroke-width="1.0"/>
<line x1="323.00" y1="425.30" x2="333.60" y2="425.30" stroke="#333" stroke-width="0.9"/>
<line x1="323.00" y1="425.30" x2="323.00" y2="427.30" stroke="#333" stroke-width="0.9"/>
<line x1="333.60" y1="425.30" x2="333.60" y2="427.30" stroke="#333" stroke-width="0.9"/>
<polygon points="326.10,419.30 326.76,420.89 328.48,421.03 327.17,422.15 327.57,423.82 326.10,422.93 324.63,423.82 325.03,422.15 323.72,421.03 325.44,420.89" fill="#111"/>
<polygon points="331.10,419.30 331.76,420.89 333.48,421.03 332.17,422.15 332.57,423.82 331.10,422.93 329.63,423.82 330.03,422.15 328.72,421.03 330.44,420.89" fill="#111"/>
<line x1="338.00" y1="450.70" x2="348.90" y2="450.70" stroke="#333" stroke-width="0.9"/>
<line x1="338.00" y1="450.70" x2="338.00" y2="452.70" stroke="#333" stroke-width="0.9"/>
<line x1="348.90" y1="450.70" x2="348.90" y2="452.70" stroke="#333" stroke-width="0.9"/>
<polygon points="340.80,443.40 341.46,444.99 343.18,445.13 341.87,446.25 342.27,447.92 340.80,447.03 339.33,447.92 339.73,446.25 338.42,445.13 340.14,444.99" fill="#111"/>
<polygon points="345.80,443.40 346.46,444.99 348.18,445.13 346.87,446.25 347.27,447.92 345.80,447.03 344.33,447.92 344.73,446.25 343.42,445.13 345.14,444.99" fill="#111"/>
<text x="270.20" y="486.75" font-family="'Liberation Serif', serif" font-size="8.7" text-anchor="middle" font-weight="normal" font-style="normal" fill="#222" stroke="#222" stroke-width="0.12" transform="rotate(-90 270.20 483.70)">SOD activity level(U/mL)</text>
<text x="401.00" y="421.25" font-family="'Liberation Serif', serif" font-size="9.3" text-anchor="start" font-weight="normal" font-style="normal" fill="#000" stroke="#000" stroke-width="0.05">K</text>
<line x1="438.20" y1="425.30" x2="438.20" y2="538.20" stroke="#000" stroke-width="1.25"/>
<line x1="437.60" y1="537.60" x2="494.60" y2="537.60" stroke="#000" stroke-width="1.4"/>
<line x1="435.70" y1="537.60" x2="438.20" y2="537.60" stroke="#000" stroke-width="1.1"/>
<text x="431.90" y="540.15" font-family="'Liberation Serif', serif" font-size="7.3" text-anchor="end" font-weight="normal" font-style="normal" fill="#222" stroke="#222" stroke-width="0.12">0.00</text>
<line x1="435.70" y1="525.18" x2="438.20" y2="525.18" stroke="#000" stroke-width="1.1"/>
<text x="431.90" y="527.73" font-family="'Liberation Serif', serif" font-size="7.3" text-anchor="end" font-weight="normal" font-style="normal" fill="#222" stroke="#222" stroke-width="0.12">0.50</text>
<line x1="435.70" y1="512.76" x2="438.20" y2="512.76" stroke="#000" stroke-width="1.1"/>
<text x="431.90" y="515.31" font-family="'Liberation Serif', serif" font-size="7.3" text-anchor="end" font-weight="normal" font-style="normal" fill="#222" stroke="#222" stroke-width="0.12">1.00</text>
<line x1="435.70" y1="500.33" x2="438.20" y2="500.33" stroke="#000" stroke-width="1.1"/>
<text x="431.90" y="502.89" font-family="'Liberation Serif', serif" font-size="7.3" text-anchor="end" font-weight="normal" font-style="normal" fill="#222" stroke="#222" stroke-width="0.12">1.50</text>
<line x1="435.70" y1="487.91" x2="438.20" y2="487.91" stroke="#000" stroke-width="1.1"/>
<text x="431.90" y="490.47" font-family="'Liberation Serif', serif" font-size="7.3" text-anchor="end" font-weight="normal" font-style="normal" fill="#222" stroke="#222" stroke-width="0.12">2.00</text>
<line x1="435.70" y1="475.49" x2="438.20" y2="475.49" stroke="#000" stroke-width="1.1"/>
<text x="431.90" y="478.04" font-family="'Liberation Serif', serif" font-size="7.3" text-anchor="end" font-weight="normal" font-style="normal" fill="#222" stroke="#222" stroke-width="0.12">2.50</text>
<line x1="435.70" y1="463.07" x2="438.20" y2="463.07" stroke="#000" stroke-width="1.1"/>
<text x="431.90" y="465.62" font-family="'Liberation Serif', serif" font-size="7.3" text-anchor="end" font-weight="normal" font-style="normal" fill="#222" stroke="#222" stroke-width="0.12">3.00</text>
<line x1="435.70" y1="450.64" x2="438.20" y2="450.64" stroke="#000" stroke-width="1.1"/>
<text x="431.90" y="453.20" font-family="'Liberation Serif', serif" font-size="7.3" text-anchor="end" font-weight="normal" font-style="normal" fill="#222" stroke="#222" stroke-width="0.12">3.50</text>
<line x1="435.70" y1="438.22" x2="438.20" y2="438.22" stroke="#000" stroke-width="1.1"/>
<text x="431.90" y="440.78" font-family="'Liberation Serif', serif" font-size="7.3" text-anchor="end" font-weight="normal" font-style="normal" fill="#222" stroke="#222" stroke-width="0.12">4.00</text>
<line x1="435.70" y1="425.80" x2="438.20" y2="425.80" stroke="#000" stroke-width="1.1"/>
<text x="431.90" y="428.36" font-family="'Liberation Serif', serif" font-size="7.3" text-anchor="end" font-weight="normal" font-style="normal" fill="#222" stroke="#222" stroke-width="0.12">4.50</text>
<rect x="448.40" y="478.47" width="12.70" height="59.13" fill="#16b0ee" stroke="none" stroke-width="0"/>
<line x1="454.75" y1="474.74" x2="454.75" y2="478.47" stroke="#16b0ee" stroke-width="1.1"/>
<line x1="453.25" y1="474.74" x2="456.25" y2="474.74" stroke="#16b0ee" stroke-width="1.0"/>
<rect x="461.10" y="456.61" width="12.70" height="80.99" fill="#e8700e" stroke="none" stroke-width="0"/>
<line x1="467.45" y1="452.63" x2="467.45" y2="456.61" stroke="#e8700e" stroke-width="1.1"/>
<line x1="465.95" y1="452.63" x2="468.95" y2="452.63" stroke="#e8700e" stroke-width="1.0"/>
<rect x="473.80" y="435.24" width="12.20" height="102.36" fill="#7030a0" stroke="none" stroke-width="0"/>
<line x1="479.90" y1="431.51" x2="479.90" y2="435.24" stroke="#7030a0" stroke-width="1.1"/>
<line x1="478.40" y1="431.51" x2="481.40" y2="431.51" stroke="#7030a0" stroke-width="1.0"/>
<line x1="456.50" y1="447.70" x2="467.50" y2="447.70" stroke="#333" stroke-width="0.9"/>
<line x1="456.50" y1="447.70" x2="456.50" y2="449.70" stroke="#333" stroke-width="0.9"/>
<line x1="467.50" y1="447.70" x2="467.50" y2="449.70" stroke="#333" stroke-width="0.9"/>
<polygon points="459.40,441.40 460.06,442.99 461.78,443.13 460.47,444.25 460.87,445.92 459.40,445.03 457.93,445.92 458.33,444.25 457.02,443.13 458.74,442.99" fill="#111"/>
<polygon points="464.40,441.40 465.06,442.99 466.78,443.13 465.47,444.25 465.87,445.92 464.40,445.03 462.93,445.92 463.33,444.25 462.02,443.13 463.74,442.99" fill="#111"/>
<line x1="469.20" y1="428.40" x2="480.10" y2="428.40" stroke="#333" stroke-width="0.9"/>
<line x1="469.20" y1="428.40" x2="469.20" y2="430.40" stroke="#333" stroke-width="0.9"/>
<line x1="480.10" y1="428.40" x2="480.10" y2="430.40" stroke="#333" stroke-width="0.9"/>
<polygon points="472.60,421.10 473.26,422.69 474.98,422.83 473.67,423.95 474.07,425.62 472.60,424.73 471.13,425.62 471.53,423.95 470.22,422.83 471.94,422.69" fill="#111"/>
<polygon points="477.60,421.10 478.26,422.69 479.98,422.83 478.67,423.95 479.07,425.62 477.60,424.73 476.13,425.62 476.53,423.95 475.22,422.83 476.94,422.69" fill="#111"/>
<text x="406.50" y="484.28" font-family="'Liberation Serif', serif" font-size="8.8" text-anchor="middle" font-weight="normal" font-style="normal" fill="#222" stroke="#222" stroke-width="0.12" transform="rotate(-90 406.50 481.20)">MDA level(nmol/L)</text>
</svg>
</body></html>
